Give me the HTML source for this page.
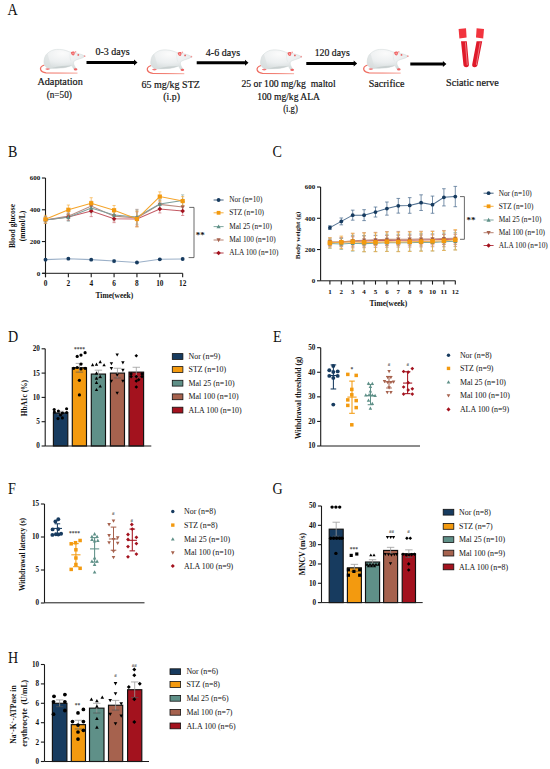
<!DOCTYPE html>
<html><head><meta charset="utf-8"><style>
html,body{margin:0;padding:0;background:#fff;}
svg{display:block;font-family:"Liberation Serif", serif;}
text{stroke:none;}
</style></head><body>
<svg width="550" height="769" viewBox="0 0 550 769">
<defs>
<radialGradient id="ratg" cx="0.45" cy="0.2" r="0.8">
<stop offset="0" stop-color="#fbfbfb"/><stop offset="0.55" stop-color="#eceff0"/><stop offset="1" stop-color="#d3dada"/>
</radialGradient>
<linearGradient id="tailg" x1="0" y1="0" x2="1" y2="0">
<stop offset="0" stop-color="#ee6a5e"/><stop offset="0.5" stop-color="#f28478"/><stop offset="1" stop-color="#f8bab2"/>
</linearGradient>
</defs>
<rect width="550" height="769" fill="#fff"/>
<text x="0" y="0" font-size="16.2" fill="#111" transform="translate(7.60,15.10) scale(0.87,1)">A</text>
<g transform="translate(0.00,0.00)"><path d="M44.4,65 C41.5,66 40.2,68 40.6,69.5 C41.2,71.5 43,72.5 46,72.8 L77.5,73.2" fill="none" stroke="url(#tailg)" stroke-width="1.3"/><path d="M45,65.8 C44,64 43.8,62.5 44.1,60.5 C44.6,57 45.5,55 47.3,53.5 C50,51 53,49.6 56.4,49.4 C61,49.1 65.5,50 69.1,51.7 C71.5,52.5 75,52.8 78.2,53.5 C80.5,54 83,55 85,56.2 C83.5,57.6 81.5,58.4 79.1,59 C77,59.6 75.2,60.2 74.1,61.2 C73.3,62.3 73.6,64 74.3,65.5 C75,67 75.8,68.2 76.8,69.2 L74.2,69.6 C73,68.2 72.3,66.5 71.8,65.6 C68,67 64.5,67.8 60.9,68 C56,68.3 51.5,68.2 48.8,68.6 C47.2,68 45.8,67 45,65.8 Z" fill="url(#ratg)" stroke="#ccd4d4" stroke-width="0.45"/><path d="M45,65.8 C44,64 43.8,62.5 44.1,60.5 C44.6,57 45.5,55 47.3,53.5 C48.6,57 49.6,62 51.5,68.4 C50,68.5 49.5,68.6 48.8,68.6 C47.2,68 45.8,67 45,65.8 Z" fill="#d9dfdf" opacity="0.55"/><path d="M52,67.9 C58,66.4 66,65.6 71.8,65.6 C68,67 64.5,67.8 60.9,68 C57,68.2 54,68.2 52,67.9 Z" fill="#c4cccc" opacity="0.8"/><path d="M70.5,52.3 C69.6,55 69.8,58.5 71.2,61.5" fill="none" stroke="#dfe5e5" stroke-width="0.5"/><path d="M70.9,52.6 C71.8,51.5 73.5,51.3 74.6,52 C74.9,53.3 74.6,55 73.4,55.6 C72.2,55.5 71.2,54.4 70.9,52.6 Z" fill="#ef5d5d"/><ellipse cx="73" cy="53.4" rx="0.8" ry="1.0" fill="#f7a0a0"/><circle cx="75.6" cy="51.9" r="0.8" fill="#f4a2a2"/><circle cx="78.3" cy="54.9" r="0.9" fill="#e86060"/><circle cx="84.6" cy="56.2" r="0.85" fill="#f09a9a"/><ellipse cx="75.6" cy="69.4" rx="1.8" ry="1.1" fill="#ef6262"/><ellipse cx="47.6" cy="69.1" rx="2.3" ry="0.8" fill="#f07878"/></g>
<g transform="translate(106.80,0.50)"><path d="M44.4,65 C41.5,66 40.2,68 40.6,69.5 C41.2,71.5 43,72.5 46,72.8 L77.5,73.2" fill="none" stroke="url(#tailg)" stroke-width="1.3"/><path d="M45,65.8 C44,64 43.8,62.5 44.1,60.5 C44.6,57 45.5,55 47.3,53.5 C50,51 53,49.6 56.4,49.4 C61,49.1 65.5,50 69.1,51.7 C71.5,52.5 75,52.8 78.2,53.5 C80.5,54 83,55 85,56.2 C83.5,57.6 81.5,58.4 79.1,59 C77,59.6 75.2,60.2 74.1,61.2 C73.3,62.3 73.6,64 74.3,65.5 C75,67 75.8,68.2 76.8,69.2 L74.2,69.6 C73,68.2 72.3,66.5 71.8,65.6 C68,67 64.5,67.8 60.9,68 C56,68.3 51.5,68.2 48.8,68.6 C47.2,68 45.8,67 45,65.8 Z" fill="url(#ratg)" stroke="#ccd4d4" stroke-width="0.45"/><path d="M45,65.8 C44,64 43.8,62.5 44.1,60.5 C44.6,57 45.5,55 47.3,53.5 C48.6,57 49.6,62 51.5,68.4 C50,68.5 49.5,68.6 48.8,68.6 C47.2,68 45.8,67 45,65.8 Z" fill="#d9dfdf" opacity="0.55"/><path d="M52,67.9 C58,66.4 66,65.6 71.8,65.6 C68,67 64.5,67.8 60.9,68 C57,68.2 54,68.2 52,67.9 Z" fill="#c4cccc" opacity="0.8"/><path d="M70.5,52.3 C69.6,55 69.8,58.5 71.2,61.5" fill="none" stroke="#dfe5e5" stroke-width="0.5"/><path d="M70.9,52.6 C71.8,51.5 73.5,51.3 74.6,52 C74.9,53.3 74.6,55 73.4,55.6 C72.2,55.5 71.2,54.4 70.9,52.6 Z" fill="#ef5d5d"/><ellipse cx="73" cy="53.4" rx="0.8" ry="1.0" fill="#f7a0a0"/><circle cx="75.6" cy="51.9" r="0.8" fill="#f4a2a2"/><circle cx="78.3" cy="54.9" r="0.9" fill="#e86060"/><circle cx="84.6" cy="56.2" r="0.85" fill="#f09a9a"/><ellipse cx="75.6" cy="69.4" rx="1.8" ry="1.1" fill="#ef6262"/><ellipse cx="47.6" cy="69.1" rx="2.3" ry="0.8" fill="#f07878"/></g>
<g transform="translate(216.60,0.50)"><path d="M44.4,65 C41.5,66 40.2,68 40.6,69.5 C41.2,71.5 43,72.5 46,72.8 L77.5,73.2" fill="none" stroke="url(#tailg)" stroke-width="1.3"/><path d="M45,65.8 C44,64 43.8,62.5 44.1,60.5 C44.6,57 45.5,55 47.3,53.5 C50,51 53,49.6 56.4,49.4 C61,49.1 65.5,50 69.1,51.7 C71.5,52.5 75,52.8 78.2,53.5 C80.5,54 83,55 85,56.2 C83.5,57.6 81.5,58.4 79.1,59 C77,59.6 75.2,60.2 74.1,61.2 C73.3,62.3 73.6,64 74.3,65.5 C75,67 75.8,68.2 76.8,69.2 L74.2,69.6 C73,68.2 72.3,66.5 71.8,65.6 C68,67 64.5,67.8 60.9,68 C56,68.3 51.5,68.2 48.8,68.6 C47.2,68 45.8,67 45,65.8 Z" fill="url(#ratg)" stroke="#ccd4d4" stroke-width="0.45"/><path d="M45,65.8 C44,64 43.8,62.5 44.1,60.5 C44.6,57 45.5,55 47.3,53.5 C48.6,57 49.6,62 51.5,68.4 C50,68.5 49.5,68.6 48.8,68.6 C47.2,68 45.8,67 45,65.8 Z" fill="#d9dfdf" opacity="0.55"/><path d="M52,67.9 C58,66.4 66,65.6 71.8,65.6 C68,67 64.5,67.8 60.9,68 C57,68.2 54,68.2 52,67.9 Z" fill="#c4cccc" opacity="0.8"/><path d="M70.5,52.3 C69.6,55 69.8,58.5 71.2,61.5" fill="none" stroke="#dfe5e5" stroke-width="0.5"/><path d="M70.9,52.6 C71.8,51.5 73.5,51.3 74.6,52 C74.9,53.3 74.6,55 73.4,55.6 C72.2,55.5 71.2,54.4 70.9,52.6 Z" fill="#ef5d5d"/><ellipse cx="73" cy="53.4" rx="0.8" ry="1.0" fill="#f7a0a0"/><circle cx="75.6" cy="51.9" r="0.8" fill="#f4a2a2"/><circle cx="78.3" cy="54.9" r="0.9" fill="#e86060"/><circle cx="84.6" cy="56.2" r="0.85" fill="#f09a9a"/><ellipse cx="75.6" cy="69.4" rx="1.8" ry="1.1" fill="#ef6262"/><ellipse cx="47.6" cy="69.1" rx="2.3" ry="0.8" fill="#f07878"/></g>
<g transform="translate(323.20,0.00)"><path d="M44.4,65 C41.5,66 40.2,68 40.6,69.5 C41.2,71.5 43,72.5 46,72.8 L77.5,73.2" fill="none" stroke="url(#tailg)" stroke-width="1.3"/><path d="M45,65.8 C44,64 43.8,62.5 44.1,60.5 C44.6,57 45.5,55 47.3,53.5 C50,51 53,49.6 56.4,49.4 C61,49.1 65.5,50 69.1,51.7 C71.5,52.5 75,52.8 78.2,53.5 C80.5,54 83,55 85,56.2 C83.5,57.6 81.5,58.4 79.1,59 C77,59.6 75.2,60.2 74.1,61.2 C73.3,62.3 73.6,64 74.3,65.5 C75,67 75.8,68.2 76.8,69.2 L74.2,69.6 C73,68.2 72.3,66.5 71.8,65.6 C68,67 64.5,67.8 60.9,68 C56,68.3 51.5,68.2 48.8,68.6 C47.2,68 45.8,67 45,65.8 Z" fill="url(#ratg)" stroke="#ccd4d4" stroke-width="0.45"/><path d="M45,65.8 C44,64 43.8,62.5 44.1,60.5 C44.6,57 45.5,55 47.3,53.5 C48.6,57 49.6,62 51.5,68.4 C50,68.5 49.5,68.6 48.8,68.6 C47.2,68 45.8,67 45,65.8 Z" fill="#d9dfdf" opacity="0.55"/><path d="M52,67.9 C58,66.4 66,65.6 71.8,65.6 C68,67 64.5,67.8 60.9,68 C57,68.2 54,68.2 52,67.9 Z" fill="#c4cccc" opacity="0.8"/><path d="M70.5,52.3 C69.6,55 69.8,58.5 71.2,61.5" fill="none" stroke="#dfe5e5" stroke-width="0.5"/><path d="M70.9,52.6 C71.8,51.5 73.5,51.3 74.6,52 C74.9,53.3 74.6,55 73.4,55.6 C72.2,55.5 71.2,54.4 70.9,52.6 Z" fill="#ef5d5d"/><ellipse cx="73" cy="53.4" rx="0.8" ry="1.0" fill="#f7a0a0"/><circle cx="75.6" cy="51.9" r="0.8" fill="#f4a2a2"/><circle cx="78.3" cy="54.9" r="0.9" fill="#e86060"/><circle cx="84.6" cy="56.2" r="0.85" fill="#f09a9a"/><ellipse cx="75.6" cy="69.4" rx="1.8" ry="1.1" fill="#ef6262"/><ellipse cx="47.6" cy="69.1" rx="2.3" ry="0.8" fill="#f07878"/></g>
<path d="M86.50,61.00 L134.00,61.00 L134.00,59.50 L137.50,62.50 L134.00,65.50 L134.00,64.00 L86.50,64.00 Z" fill="#000"/>
<path d="M196.70,61.30 L245.00,61.30 L245.00,59.80 L248.50,62.80 L245.00,65.80 L245.00,64.30 L196.70,64.30 Z" fill="#000"/>
<path d="M306.30,62.00 L353.70,62.00 L353.70,60.50 L357.20,63.50 L353.70,66.50 L353.70,65.00 L306.30,65.00 Z" fill="#000"/>
<path d="M410.30,62.50 L442.90,62.50 L442.90,61.00 L446.40,64.00 L442.90,67.00 L442.90,65.50 L410.30,65.50 Z" fill="#000"/>
<text x="112.50" y="55.10" font-size="9.9" text-anchor="middle" font-weight="normal" fill="#111" style="stroke:#111;stroke-width:0.18px" textLength="34.2" lengthAdjust="spacingAndGlyphs">0-3 days</text>
<text x="223.00" y="55.60" font-size="9.9" text-anchor="middle" font-weight="normal" fill="#111" style="stroke:#111;stroke-width:0.18px" textLength="34.3" lengthAdjust="spacingAndGlyphs">4-6 days</text>
<text x="332.20" y="55.60" font-size="9.9" text-anchor="middle" font-weight="normal" fill="#111" style="stroke:#111;stroke-width:0.18px" textLength="35" lengthAdjust="spacingAndGlyphs">120 days</text>
<text x="60.10" y="85.10" font-size="9.9" text-anchor="middle" font-weight="normal" fill="#111" style="stroke:#111;stroke-width:0.18px" textLength="45.4" lengthAdjust="spacingAndGlyphs">Adaptation</text>
<text x="59.30" y="97.60" font-size="9.9" text-anchor="middle" font-weight="normal" fill="#111" style="stroke:#111;stroke-width:0.18px" textLength="25.2" lengthAdjust="spacingAndGlyphs">(n=50)</text>
<text x="170.70" y="87.50" font-size="9.9" text-anchor="middle" font-weight="normal" fill="#111" style="stroke:#111;stroke-width:0.18px" textLength="58.4" lengthAdjust="spacingAndGlyphs">65 mg/kg STZ</text>
<text x="171.60" y="99.70" font-size="9.9" text-anchor="middle" font-weight="normal" fill="#111" style="stroke:#111;stroke-width:0.18px" textLength="16.6" lengthAdjust="spacingAndGlyphs">(i.p)</text>
<text x="288.50" y="87.40" font-size="9.9" text-anchor="middle" font-weight="normal" fill="#111" style="stroke:#111;stroke-width:0.18px" textLength="94.2" lengthAdjust="spacingAndGlyphs">25 or 100 mg/kg&#160; maltol</text>
<text x="288.60" y="99.50" font-size="9.9" text-anchor="middle" font-weight="normal" fill="#111" style="stroke:#111;stroke-width:0.18px" textLength="62.7" lengthAdjust="spacingAndGlyphs">100 mg/kg ALA</text>
<text x="290.50" y="111.50" font-size="9.9" text-anchor="middle" font-weight="normal" fill="#111" style="stroke:#111;stroke-width:0.18px" textLength="14.7" lengthAdjust="spacingAndGlyphs">(i.g)</text>
<text x="386.60" y="87.00" font-size="9.9" text-anchor="middle" font-weight="normal" fill="#111" style="stroke:#111;stroke-width:0.18px" textLength="35.7" lengthAdjust="spacingAndGlyphs">Sacrifice</text>
<text x="472.50" y="85.60" font-size="9.9" text-anchor="middle" font-weight="normal" fill="#111" style="stroke:#111;stroke-width:0.18px" textLength="52.8" lengthAdjust="spacingAndGlyphs">Sciatic nerve</text>
<g><polygon points="458.6,29 466,28.2 466.6,37.6 459.4,38.4" fill="#f2343e"/><path d="M461,41.3 L466.8,41.3 L468.9,64.5 Q469,67.3 466.2,67.3 Q463.6,67.3 463.4,64.6 Z" fill="#e01a2a"/><polygon points="476.6,28.2 484,29 483.2,38.4 476,37.6" fill="#f2343e"/><path d="M476.6,41.3 L482.2,41.3 L477.6,64.6 Q477.2,67.3 474.6,67.3 Q471.9,67.3 472.2,64.5 Z" fill="#e01a2a"/><line x1="465.4" y1="42.3" x2="467.3" y2="65" stroke="#fff" stroke-width="0.55" opacity="0.75"/><line x1="480.2" y1="42.3" x2="476.3" y2="65" stroke="#fff" stroke-width="0.55" opacity="0.75"/></g>
<text x="0" y="0" font-size="16.2" fill="#111" transform="translate(8.00,157.00) scale(0.87,1)">B</text>
<line x1="45.50" y1="178.00" x2="45.50" y2="277.20" stroke="#1a1a1a" stroke-width="1.1" />
<line x1="41.90" y1="273.30" x2="45.50" y2="273.30" stroke="#1a1a1a" stroke-width="1.1" />
<text x="40.20" y="275.68" font-size="7.0" text-anchor="end" font-weight="bold" fill="#111" >0</text>
<line x1="41.90" y1="241.54" x2="45.50" y2="241.54" stroke="#1a1a1a" stroke-width="1.1" />
<text x="40.20" y="243.92" font-size="7.0" text-anchor="end" font-weight="bold" fill="#111" >200</text>
<line x1="41.90" y1="209.78" x2="45.50" y2="209.78" stroke="#1a1a1a" stroke-width="1.1" />
<text x="40.20" y="212.16" font-size="7.0" text-anchor="end" font-weight="bold" fill="#111" >400</text>
<line x1="41.90" y1="178.02" x2="45.50" y2="178.02" stroke="#1a1a1a" stroke-width="1.1" />
<text x="40.20" y="180.40" font-size="7.0" text-anchor="end" font-weight="bold" fill="#111" >600</text>
<line x1="42.30" y1="273.30" x2="182.70" y2="273.30" stroke="#1a1a1a" stroke-width="1.0" />
<line x1="45.50" y1="273.30" x2="45.50" y2="277.20" stroke="#1a1a1a" stroke-width="1.1" />
<text x="45.50" y="285.60" font-size="7.3" text-anchor="middle" font-weight="bold" fill="#111" >0</text>
<line x1="68.36" y1="273.30" x2="68.36" y2="277.20" stroke="#1a1a1a" stroke-width="1.1" />
<text x="68.36" y="285.60" font-size="7.3" text-anchor="middle" font-weight="bold" fill="#111" >2</text>
<line x1="91.22" y1="273.30" x2="91.22" y2="277.20" stroke="#1a1a1a" stroke-width="1.1" />
<text x="91.22" y="285.60" font-size="7.3" text-anchor="middle" font-weight="bold" fill="#111" >4</text>
<line x1="114.08" y1="273.30" x2="114.08" y2="277.20" stroke="#1a1a1a" stroke-width="1.1" />
<text x="114.08" y="285.60" font-size="7.3" text-anchor="middle" font-weight="bold" fill="#111" >6</text>
<line x1="136.94" y1="273.30" x2="136.94" y2="277.20" stroke="#1a1a1a" stroke-width="1.1" />
<text x="136.94" y="285.60" font-size="7.3" text-anchor="middle" font-weight="bold" fill="#111" >8</text>
<line x1="159.80" y1="273.30" x2="159.80" y2="277.20" stroke="#1a1a1a" stroke-width="1.1" />
<text x="159.80" y="285.60" font-size="7.3" text-anchor="middle" font-weight="bold" fill="#111" >10</text>
<line x1="182.66" y1="273.30" x2="182.66" y2="277.20" stroke="#1a1a1a" stroke-width="1.1" />
<text x="182.66" y="285.60" font-size="7.3" text-anchor="middle" font-weight="bold" fill="#111" >12</text>
<text x="114.40" y="297.60" font-size="7.5" text-anchor="middle" font-weight="bold" fill="#111" >Time(week)</text>
<text x="0" y="0" font-size="7.5" font-weight="bold" text-anchor="middle" fill="#111" transform="translate(15.00,226.00) rotate(-90)">Blood glucose</text>
<text x="0" y="0" font-size="7.5" font-weight="bold" text-anchor="middle" fill="#111" transform="translate(25.00,226.00) rotate(-90)">(mmol/L)</text>
<polyline points="45.50,219.94 68.36,216.93 91.22,211.05 114.08,218.67 136.94,218.99 159.80,208.99 182.66,211.05" fill="none" stroke="#c45a64" stroke-width="1.05"/>
<polyline points="45.50,219.94 68.36,216.13 91.22,205.97 114.08,216.13 136.94,218.04 159.80,204.38 182.66,207.08" fill="none" stroke="#b98a80" stroke-width="1.05"/>
<polyline points="45.50,219.94 68.36,217.24 91.22,208.03 114.08,215.02 136.94,217.08 159.80,204.06 182.66,200.41" fill="none" stroke="#7d9f9b" stroke-width="1.05"/>
<polyline points="45.50,219.31 68.36,209.78 91.22,203.27 114.08,210.26 136.94,218.99 159.80,196.60 182.66,201.05" fill="none" stroke="#f5a42a" stroke-width="1.05"/>
<polyline points="45.50,259.64 68.36,258.69 91.22,259.64 114.08,261.07 136.94,262.50 159.80,259.33 182.66,259.01" fill="none" stroke="#9bb0c8" stroke-width="1.05"/>
<line x1="45.50" y1="216.77" x2="45.50" y2="223.12" stroke="#c45a64" stroke-width="0.6" />
<line x1="43.90" y1="216.77" x2="47.10" y2="216.77" stroke="#c45a64" stroke-width="0.6" />
<line x1="43.90" y1="223.12" x2="47.10" y2="223.12" stroke="#c45a64" stroke-width="0.6" />
<line x1="68.36" y1="213.43" x2="68.36" y2="220.42" stroke="#c45a64" stroke-width="0.6" />
<line x1="66.76" y1="213.43" x2="69.96" y2="213.43" stroke="#c45a64" stroke-width="0.6" />
<line x1="66.76" y1="220.42" x2="69.96" y2="220.42" stroke="#c45a64" stroke-width="0.6" />
<line x1="91.22" y1="205.49" x2="91.22" y2="216.61" stroke="#c45a64" stroke-width="0.6" />
<line x1="89.62" y1="205.49" x2="92.82" y2="205.49" stroke="#c45a64" stroke-width="0.6" />
<line x1="89.62" y1="216.61" x2="92.82" y2="216.61" stroke="#c45a64" stroke-width="0.6" />
<line x1="114.08" y1="214.70" x2="114.08" y2="222.64" stroke="#c45a64" stroke-width="0.6" />
<line x1="112.48" y1="214.70" x2="115.68" y2="214.70" stroke="#c45a64" stroke-width="0.6" />
<line x1="112.48" y1="222.64" x2="115.68" y2="222.64" stroke="#c45a64" stroke-width="0.6" />
<line x1="136.94" y1="211.84" x2="136.94" y2="226.14" stroke="#c45a64" stroke-width="0.6" />
<line x1="135.34" y1="211.84" x2="138.54" y2="211.84" stroke="#c45a64" stroke-width="0.6" />
<line x1="135.34" y1="226.14" x2="138.54" y2="226.14" stroke="#c45a64" stroke-width="0.6" />
<line x1="159.80" y1="205.02" x2="159.80" y2="212.96" stroke="#c45a64" stroke-width="0.6" />
<line x1="158.20" y1="205.02" x2="161.40" y2="205.02" stroke="#c45a64" stroke-width="0.6" />
<line x1="158.20" y1="212.96" x2="161.40" y2="212.96" stroke="#c45a64" stroke-width="0.6" />
<line x1="182.66" y1="206.60" x2="182.66" y2="215.50" stroke="#c45a64" stroke-width="0.6" />
<line x1="181.06" y1="206.60" x2="184.26" y2="206.60" stroke="#c45a64" stroke-width="0.6" />
<line x1="181.06" y1="215.50" x2="184.26" y2="215.50" stroke="#c45a64" stroke-width="0.6" />
<line x1="45.50" y1="216.77" x2="45.50" y2="223.12" stroke="#b98a80" stroke-width="0.6" />
<line x1="43.90" y1="216.77" x2="47.10" y2="216.77" stroke="#b98a80" stroke-width="0.6" />
<line x1="43.90" y1="223.12" x2="47.10" y2="223.12" stroke="#b98a80" stroke-width="0.6" />
<line x1="68.36" y1="212.16" x2="68.36" y2="220.10" stroke="#b98a80" stroke-width="0.6" />
<line x1="66.76" y1="212.16" x2="69.96" y2="212.16" stroke="#b98a80" stroke-width="0.6" />
<line x1="66.76" y1="220.10" x2="69.96" y2="220.10" stroke="#b98a80" stroke-width="0.6" />
<line x1="91.22" y1="201.20" x2="91.22" y2="210.73" stroke="#b98a80" stroke-width="0.6" />
<line x1="89.62" y1="201.20" x2="92.82" y2="201.20" stroke="#b98a80" stroke-width="0.6" />
<line x1="89.62" y1="210.73" x2="92.82" y2="210.73" stroke="#b98a80" stroke-width="0.6" />
<line x1="114.08" y1="211.37" x2="114.08" y2="220.90" stroke="#b98a80" stroke-width="0.6" />
<line x1="112.48" y1="211.37" x2="115.68" y2="211.37" stroke="#b98a80" stroke-width="0.6" />
<line x1="112.48" y1="220.90" x2="115.68" y2="220.90" stroke="#b98a80" stroke-width="0.6" />
<line x1="136.94" y1="209.30" x2="136.94" y2="226.77" stroke="#b98a80" stroke-width="0.6" />
<line x1="135.34" y1="209.30" x2="138.54" y2="209.30" stroke="#b98a80" stroke-width="0.6" />
<line x1="135.34" y1="226.77" x2="138.54" y2="226.77" stroke="#b98a80" stroke-width="0.6" />
<line x1="159.80" y1="200.41" x2="159.80" y2="208.35" stroke="#b98a80" stroke-width="0.6" />
<line x1="158.20" y1="200.41" x2="161.40" y2="200.41" stroke="#b98a80" stroke-width="0.6" />
<line x1="158.20" y1="208.35" x2="161.40" y2="208.35" stroke="#b98a80" stroke-width="0.6" />
<line x1="182.66" y1="202.32" x2="182.66" y2="211.84" stroke="#b98a80" stroke-width="0.6" />
<line x1="181.06" y1="202.32" x2="184.26" y2="202.32" stroke="#b98a80" stroke-width="0.6" />
<line x1="181.06" y1="211.84" x2="184.26" y2="211.84" stroke="#b98a80" stroke-width="0.6" />
<line x1="45.50" y1="216.77" x2="45.50" y2="223.12" stroke="#7d9f9b" stroke-width="0.6" />
<line x1="43.90" y1="216.77" x2="47.10" y2="216.77" stroke="#7d9f9b" stroke-width="0.6" />
<line x1="43.90" y1="223.12" x2="47.10" y2="223.12" stroke="#7d9f9b" stroke-width="0.6" />
<line x1="68.36" y1="213.27" x2="68.36" y2="221.21" stroke="#7d9f9b" stroke-width="0.6" />
<line x1="66.76" y1="213.27" x2="69.96" y2="213.27" stroke="#7d9f9b" stroke-width="0.6" />
<line x1="66.76" y1="221.21" x2="69.96" y2="221.21" stroke="#7d9f9b" stroke-width="0.6" />
<line x1="91.22" y1="203.27" x2="91.22" y2="212.80" stroke="#7d9f9b" stroke-width="0.6" />
<line x1="89.62" y1="203.27" x2="92.82" y2="203.27" stroke="#7d9f9b" stroke-width="0.6" />
<line x1="89.62" y1="212.80" x2="92.82" y2="212.80" stroke="#7d9f9b" stroke-width="0.6" />
<line x1="114.08" y1="211.05" x2="114.08" y2="218.99" stroke="#7d9f9b" stroke-width="0.6" />
<line x1="112.48" y1="211.05" x2="115.68" y2="211.05" stroke="#7d9f9b" stroke-width="0.6" />
<line x1="112.48" y1="218.99" x2="115.68" y2="218.99" stroke="#7d9f9b" stroke-width="0.6" />
<line x1="136.94" y1="209.94" x2="136.94" y2="224.23" stroke="#7d9f9b" stroke-width="0.6" />
<line x1="135.34" y1="209.94" x2="138.54" y2="209.94" stroke="#7d9f9b" stroke-width="0.6" />
<line x1="135.34" y1="224.23" x2="138.54" y2="224.23" stroke="#7d9f9b" stroke-width="0.6" />
<line x1="159.80" y1="199.30" x2="159.80" y2="208.83" stroke="#7d9f9b" stroke-width="0.6" />
<line x1="158.20" y1="199.30" x2="161.40" y2="199.30" stroke="#7d9f9b" stroke-width="0.6" />
<line x1="158.20" y1="208.83" x2="161.40" y2="208.83" stroke="#7d9f9b" stroke-width="0.6" />
<line x1="182.66" y1="194.85" x2="182.66" y2="205.97" stroke="#7d9f9b" stroke-width="0.6" />
<line x1="181.06" y1="194.85" x2="184.26" y2="194.85" stroke="#7d9f9b" stroke-width="0.6" />
<line x1="181.06" y1="205.97" x2="184.26" y2="205.97" stroke="#7d9f9b" stroke-width="0.6" />
<line x1="45.50" y1="215.34" x2="45.50" y2="223.28" stroke="#f5a42a" stroke-width="0.6" />
<line x1="43.90" y1="215.34" x2="47.10" y2="215.34" stroke="#f5a42a" stroke-width="0.6" />
<line x1="43.90" y1="223.28" x2="47.10" y2="223.28" stroke="#f5a42a" stroke-width="0.6" />
<line x1="68.36" y1="205.02" x2="68.36" y2="214.54" stroke="#f5a42a" stroke-width="0.6" />
<line x1="66.76" y1="205.02" x2="69.96" y2="205.02" stroke="#f5a42a" stroke-width="0.6" />
<line x1="66.76" y1="214.54" x2="69.96" y2="214.54" stroke="#f5a42a" stroke-width="0.6" />
<line x1="91.22" y1="197.71" x2="91.22" y2="208.83" stroke="#f5a42a" stroke-width="0.6" />
<line x1="89.62" y1="197.71" x2="92.82" y2="197.71" stroke="#f5a42a" stroke-width="0.6" />
<line x1="89.62" y1="208.83" x2="92.82" y2="208.83" stroke="#f5a42a" stroke-width="0.6" />
<line x1="114.08" y1="205.49" x2="114.08" y2="215.02" stroke="#f5a42a" stroke-width="0.6" />
<line x1="112.48" y1="205.49" x2="115.68" y2="205.49" stroke="#f5a42a" stroke-width="0.6" />
<line x1="112.48" y1="215.02" x2="115.68" y2="215.02" stroke="#f5a42a" stroke-width="0.6" />
<line x1="136.94" y1="211.05" x2="136.94" y2="226.93" stroke="#f5a42a" stroke-width="0.6" />
<line x1="135.34" y1="211.05" x2="138.54" y2="211.05" stroke="#f5a42a" stroke-width="0.6" />
<line x1="135.34" y1="226.93" x2="138.54" y2="226.93" stroke="#f5a42a" stroke-width="0.6" />
<line x1="159.80" y1="191.84" x2="159.80" y2="201.36" stroke="#f5a42a" stroke-width="0.6" />
<line x1="158.20" y1="191.84" x2="161.40" y2="191.84" stroke="#f5a42a" stroke-width="0.6" />
<line x1="158.20" y1="201.36" x2="161.40" y2="201.36" stroke="#f5a42a" stroke-width="0.6" />
<line x1="182.66" y1="196.60" x2="182.66" y2="205.49" stroke="#f5a42a" stroke-width="0.6" />
<line x1="181.06" y1="196.60" x2="184.26" y2="196.60" stroke="#f5a42a" stroke-width="0.6" />
<line x1="181.06" y1="205.49" x2="184.26" y2="205.49" stroke="#f5a42a" stroke-width="0.6" />
<line x1="45.50" y1="258.69" x2="45.50" y2="260.60" stroke="#9bb0c8" stroke-width="0.6" />
<line x1="43.90" y1="258.69" x2="47.10" y2="258.69" stroke="#9bb0c8" stroke-width="0.6" />
<line x1="43.90" y1="260.60" x2="47.10" y2="260.60" stroke="#9bb0c8" stroke-width="0.6" />
<line x1="68.36" y1="257.74" x2="68.36" y2="259.64" stroke="#9bb0c8" stroke-width="0.6" />
<line x1="66.76" y1="257.74" x2="69.96" y2="257.74" stroke="#9bb0c8" stroke-width="0.6" />
<line x1="66.76" y1="259.64" x2="69.96" y2="259.64" stroke="#9bb0c8" stroke-width="0.6" />
<line x1="91.22" y1="258.69" x2="91.22" y2="260.60" stroke="#9bb0c8" stroke-width="0.6" />
<line x1="89.62" y1="258.69" x2="92.82" y2="258.69" stroke="#9bb0c8" stroke-width="0.6" />
<line x1="89.62" y1="260.60" x2="92.82" y2="260.60" stroke="#9bb0c8" stroke-width="0.6" />
<line x1="114.08" y1="259.48" x2="114.08" y2="262.66" stroke="#9bb0c8" stroke-width="0.6" />
<line x1="112.48" y1="259.48" x2="115.68" y2="259.48" stroke="#9bb0c8" stroke-width="0.6" />
<line x1="112.48" y1="262.66" x2="115.68" y2="262.66" stroke="#9bb0c8" stroke-width="0.6" />
<line x1="136.94" y1="261.71" x2="136.94" y2="263.30" stroke="#9bb0c8" stroke-width="0.6" />
<line x1="135.34" y1="261.71" x2="138.54" y2="261.71" stroke="#9bb0c8" stroke-width="0.6" />
<line x1="135.34" y1="263.30" x2="138.54" y2="263.30" stroke="#9bb0c8" stroke-width="0.6" />
<line x1="159.80" y1="258.37" x2="159.80" y2="260.28" stroke="#9bb0c8" stroke-width="0.6" />
<line x1="158.20" y1="258.37" x2="161.40" y2="258.37" stroke="#9bb0c8" stroke-width="0.6" />
<line x1="158.20" y1="260.28" x2="161.40" y2="260.28" stroke="#9bb0c8" stroke-width="0.6" />
<line x1="182.66" y1="258.06" x2="182.66" y2="259.96" stroke="#9bb0c8" stroke-width="0.6" />
<line x1="181.06" y1="258.06" x2="184.26" y2="258.06" stroke="#9bb0c8" stroke-width="0.6" />
<line x1="181.06" y1="259.96" x2="184.26" y2="259.96" stroke="#9bb0c8" stroke-width="0.6" />
<polygon points="45.50,217.66 47.78,219.94 45.50,222.22 43.22,219.94" fill="#a3121e"/>
<polygon points="68.36,214.65 70.64,216.93 68.36,219.21 66.08,216.93" fill="#a3121e"/>
<polygon points="91.22,208.77 93.50,211.05 91.22,213.33 88.94,211.05" fill="#a3121e"/>
<polygon points="114.08,216.39 116.36,218.67 114.08,220.95 111.80,218.67" fill="#a3121e"/>
<polygon points="136.94,216.71 139.22,218.99 136.94,221.27 134.66,218.99" fill="#a3121e"/>
<polygon points="159.80,206.71 162.08,208.99 159.80,211.27 157.52,208.99" fill="#a3121e"/>
<polygon points="182.66,208.77 184.94,211.05 182.66,213.33 180.38,211.05" fill="#a3121e"/>
<polygon points="45.50,222.13 47.59,218.30 43.41,218.30" fill="#a6624e"/>
<polygon points="68.36,218.32 70.45,214.49 66.27,214.49" fill="#a6624e"/>
<polygon points="91.22,208.15 93.31,204.33 89.13,204.33" fill="#a6624e"/>
<polygon points="114.08,218.32 116.17,214.49 111.99,214.49" fill="#a6624e"/>
<polygon points="136.94,220.22 139.03,216.40 134.85,216.40" fill="#a6624e"/>
<polygon points="159.80,206.57 161.89,202.74 157.71,202.74" fill="#a6624e"/>
<polygon points="182.66,209.27 184.75,205.44 180.57,205.44" fill="#a6624e"/>
<polygon points="45.50,217.76 47.59,221.58 43.41,221.58" fill="#5f9088"/>
<polygon points="68.36,215.06 70.45,218.88 66.27,218.88" fill="#5f9088"/>
<polygon points="91.22,205.85 93.31,209.67 89.13,209.67" fill="#5f9088"/>
<polygon points="114.08,212.84 116.17,216.66 111.99,216.66" fill="#5f9088"/>
<polygon points="136.94,214.90 139.03,218.72 134.85,218.72" fill="#5f9088"/>
<polygon points="159.80,201.88 161.89,205.70 157.71,205.70" fill="#5f9088"/>
<polygon points="182.66,198.23 184.75,202.05 180.57,202.05" fill="#5f9088"/>
<rect x="43.40" y="217.21" width="4.20" height="4.20" fill="#f39a0f"/>
<rect x="66.26" y="207.68" width="4.20" height="4.20" fill="#f39a0f"/>
<rect x="89.12" y="201.17" width="4.20" height="4.20" fill="#f39a0f"/>
<rect x="111.98" y="208.16" width="4.20" height="4.20" fill="#f39a0f"/>
<rect x="134.84" y="216.89" width="4.20" height="4.20" fill="#f39a0f"/>
<rect x="157.70" y="194.50" width="4.20" height="4.20" fill="#f39a0f"/>
<rect x="180.56" y="198.95" width="4.20" height="4.20" fill="#f39a0f"/>
<circle cx="45.50" cy="259.64" r="1.90" fill="#173b5f"/>
<circle cx="68.36" cy="258.69" r="1.90" fill="#173b5f"/>
<circle cx="91.22" cy="259.64" r="1.90" fill="#173b5f"/>
<circle cx="114.08" cy="261.07" r="1.90" fill="#173b5f"/>
<circle cx="136.94" cy="262.50" r="1.90" fill="#173b5f"/>
<circle cx="159.80" cy="259.33" r="1.90" fill="#173b5f"/>
<circle cx="182.66" cy="259.01" r="1.90" fill="#173b5f"/>
<path d="M189.2,207.4 L194,207.4 L194,257.6 L188.6,257.6" fill="none" stroke="#444" stroke-width="0.8"/>
<text x="200.30" y="237.80" font-size="9" text-anchor="middle" font-weight="bold" fill="#111" >**</text>
<line x1="213.60" y1="200.00" x2="223.60" y2="200.00" stroke="#173b5f" stroke-width="0.8" />
<circle cx="218.60" cy="200.00" r="1.90" fill="#173b5f"/>
<text x="229.30" y="202.41" font-size="7.3" text-anchor="start" font-weight="normal" fill="#111" >Nor (n=10)</text>
<line x1="213.60" y1="212.80" x2="223.60" y2="212.80" stroke="#f39a0f" stroke-width="0.8" />
<rect x="216.70" y="210.90" width="3.80" height="3.80" fill="#f39a0f"/>
<text x="229.30" y="215.21" font-size="7.3" text-anchor="start" font-weight="normal" fill="#111" >STZ (n=10)</text>
<line x1="213.60" y1="226.60" x2="223.60" y2="226.60" stroke="#5f9088" stroke-width="0.8" />
<polygon points="218.60,224.41 220.69,228.24 216.51,228.24" fill="#5f9088"/>
<text x="229.30" y="229.01" font-size="7.3" text-anchor="start" font-weight="normal" fill="#111" >Mal 25 (n=10)</text>
<line x1="213.60" y1="240.00" x2="223.60" y2="240.00" stroke="#a6624e" stroke-width="0.8" />
<polygon points="218.60,242.19 220.69,238.36 216.51,238.36" fill="#a6624e"/>
<text x="229.30" y="242.41" font-size="7.3" text-anchor="start" font-weight="normal" fill="#111" >Mal 100 (n=10)</text>
<line x1="213.60" y1="253.00" x2="223.60" y2="253.00" stroke="#a3121e" stroke-width="0.8" />
<polygon points="218.60,250.72 220.88,253.00 218.60,255.28 216.32,253.00" fill="#a3121e"/>
<text x="229.30" y="255.41" font-size="7.3" text-anchor="start" font-weight="normal" fill="#111" >ALA 100 (n=10)</text>
<text x="0" y="0" font-size="16.2" fill="#111" transform="translate(272.60,157.00) scale(0.87,1)">C</text>
<line x1="320.60" y1="187.00" x2="320.60" y2="280.80" stroke="#1a1a1a" stroke-width="1.1" />
<line x1="317.00" y1="280.80" x2="320.60" y2="280.80" stroke="#1a1a1a" stroke-width="1.1" />
<text x="315.30" y="283.18" font-size="7.0" text-anchor="end" font-weight="bold" fill="#111" >0</text>
<line x1="317.00" y1="249.54" x2="320.60" y2="249.54" stroke="#1a1a1a" stroke-width="1.1" />
<text x="315.30" y="251.92" font-size="7.0" text-anchor="end" font-weight="bold" fill="#111" >200</text>
<line x1="317.00" y1="218.28" x2="320.60" y2="218.28" stroke="#1a1a1a" stroke-width="1.1" />
<text x="315.30" y="220.66" font-size="7.0" text-anchor="end" font-weight="bold" fill="#111" >400</text>
<line x1="317.00" y1="187.02" x2="320.60" y2="187.02" stroke="#1a1a1a" stroke-width="1.1" />
<text x="315.30" y="189.40" font-size="7.0" text-anchor="end" font-weight="bold" fill="#111" >600</text>
<line x1="320.60" y1="280.80" x2="455.50" y2="280.80" stroke="#1a1a1a" stroke-width="1.0" />
<line x1="329.90" y1="280.80" x2="329.90" y2="284.60" stroke="#1a1a1a" stroke-width="1.1" />
<text x="329.90" y="293.50" font-size="7.0" text-anchor="middle" font-weight="bold" fill="#111" >1</text>
<line x1="341.30" y1="280.80" x2="341.30" y2="284.60" stroke="#1a1a1a" stroke-width="1.1" />
<text x="341.30" y="293.50" font-size="7.0" text-anchor="middle" font-weight="bold" fill="#111" >2</text>
<line x1="352.70" y1="280.80" x2="352.70" y2="284.60" stroke="#1a1a1a" stroke-width="1.1" />
<text x="352.70" y="293.50" font-size="7.0" text-anchor="middle" font-weight="bold" fill="#111" >3</text>
<line x1="364.10" y1="280.80" x2="364.10" y2="284.60" stroke="#1a1a1a" stroke-width="1.1" />
<text x="364.10" y="293.50" font-size="7.0" text-anchor="middle" font-weight="bold" fill="#111" >4</text>
<line x1="375.50" y1="280.80" x2="375.50" y2="284.60" stroke="#1a1a1a" stroke-width="1.1" />
<text x="375.50" y="293.50" font-size="7.0" text-anchor="middle" font-weight="bold" fill="#111" >5</text>
<line x1="386.90" y1="280.80" x2="386.90" y2="284.60" stroke="#1a1a1a" stroke-width="1.1" />
<text x="386.90" y="293.50" font-size="7.0" text-anchor="middle" font-weight="bold" fill="#111" >6</text>
<line x1="398.30" y1="280.80" x2="398.30" y2="284.60" stroke="#1a1a1a" stroke-width="1.1" />
<text x="398.30" y="293.50" font-size="7.0" text-anchor="middle" font-weight="bold" fill="#111" >7</text>
<line x1="409.70" y1="280.80" x2="409.70" y2="284.60" stroke="#1a1a1a" stroke-width="1.1" />
<text x="409.70" y="293.50" font-size="7.0" text-anchor="middle" font-weight="bold" fill="#111" >8</text>
<line x1="421.10" y1="280.80" x2="421.10" y2="284.60" stroke="#1a1a1a" stroke-width="1.1" />
<text x="421.10" y="293.50" font-size="7.0" text-anchor="middle" font-weight="bold" fill="#111" >9</text>
<line x1="432.50" y1="280.80" x2="432.50" y2="284.60" stroke="#1a1a1a" stroke-width="1.1" />
<text x="432.50" y="293.50" font-size="7.0" text-anchor="middle" font-weight="bold" fill="#111" >10</text>
<line x1="443.90" y1="280.80" x2="443.90" y2="284.60" stroke="#1a1a1a" stroke-width="1.1" />
<text x="443.90" y="293.50" font-size="7.0" text-anchor="middle" font-weight="bold" fill="#111" >11</text>
<line x1="455.30" y1="280.80" x2="455.30" y2="284.60" stroke="#1a1a1a" stroke-width="1.1" />
<text x="455.30" y="293.50" font-size="7.0" text-anchor="middle" font-weight="bold" fill="#111" >12</text>
<text x="388.40" y="305.60" font-size="7.5" text-anchor="middle" font-weight="bold" fill="#111" >Time(week)</text>
<text x="0" y="0" font-size="7.1" font-weight="bold" text-anchor="middle" fill="#111" transform="translate(300.10,235.40) rotate(-90)">Body weight (g)</text>
<polyline points="329.90,242.98 341.30,242.04 352.70,241.41 364.10,240.94 375.50,240.63 386.90,240.47 398.30,240.32 409.70,240.16 421.10,240.01 432.50,239.85 443.90,239.54 455.30,239.22" fill="none" stroke="#c45a64" stroke-width="1.05"/>
<polyline points="329.90,241.73 341.30,242.04 352.70,240.79 364.10,240.16 375.50,239.85 386.90,239.38 398.30,239.22 409.70,239.22 421.10,239.07 432.50,238.91 443.90,238.60 455.30,238.29" fill="none" stroke="#c08676" stroke-width="1.05"/>
<polyline points="329.90,243.60 341.30,243.91 352.70,243.29 364.10,243.60 375.50,243.29 386.90,242.82 398.30,242.82 409.70,242.66 421.10,242.35 432.50,242.35 443.90,241.73 455.30,241.26" fill="none" stroke="#7fa9a2" stroke-width="1.05"/>
<polyline points="329.90,242.82 341.30,242.35 352.70,241.73 364.10,242.35 375.50,242.35 386.90,241.73 398.30,242.04 409.70,241.73 421.10,241.57 432.50,241.26 443.90,240.79 455.30,239.85" fill="none" stroke="#f5ae40" stroke-width="1.05"/>
<polyline points="329.90,227.66 341.30,221.41 352.70,215.15 364.10,215.15 375.50,212.03 386.90,208.59 398.30,205.78 409.70,205.46 421.10,202.65 432.50,204.68 443.90,197.34 455.30,196.55" fill="none" stroke="#4f6f90" stroke-width="1.05"/>
<line x1="329.90" y1="239.85" x2="329.90" y2="246.10" stroke="#c45a64" stroke-width="0.75" />
<line x1="328.10" y1="239.85" x2="331.70" y2="239.85" stroke="#c45a64" stroke-width="0.75" />
<line x1="328.10" y1="246.10" x2="331.70" y2="246.10" stroke="#c45a64" stroke-width="0.75" />
<line x1="341.30" y1="238.13" x2="341.30" y2="245.95" stroke="#c45a64" stroke-width="0.75" />
<line x1="339.50" y1="238.13" x2="343.10" y2="238.13" stroke="#c45a64" stroke-width="0.75" />
<line x1="339.50" y1="245.95" x2="343.10" y2="245.95" stroke="#c45a64" stroke-width="0.75" />
<line x1="352.70" y1="236.72" x2="352.70" y2="246.10" stroke="#c45a64" stroke-width="0.75" />
<line x1="350.90" y1="236.72" x2="354.50" y2="236.72" stroke="#c45a64" stroke-width="0.75" />
<line x1="350.90" y1="246.10" x2="354.50" y2="246.10" stroke="#c45a64" stroke-width="0.75" />
<line x1="364.10" y1="235.94" x2="364.10" y2="245.95" stroke="#c45a64" stroke-width="0.75" />
<line x1="362.30" y1="235.94" x2="365.90" y2="235.94" stroke="#c45a64" stroke-width="0.75" />
<line x1="362.30" y1="245.95" x2="365.90" y2="245.95" stroke="#c45a64" stroke-width="0.75" />
<line x1="375.50" y1="235.63" x2="375.50" y2="245.63" stroke="#c45a64" stroke-width="0.75" />
<line x1="373.70" y1="235.63" x2="377.30" y2="235.63" stroke="#c45a64" stroke-width="0.75" />
<line x1="373.70" y1="245.63" x2="377.30" y2="245.63" stroke="#c45a64" stroke-width="0.75" />
<line x1="386.90" y1="235.47" x2="386.90" y2="245.48" stroke="#c45a64" stroke-width="0.75" />
<line x1="385.10" y1="235.47" x2="388.70" y2="235.47" stroke="#c45a64" stroke-width="0.75" />
<line x1="385.10" y1="245.48" x2="388.70" y2="245.48" stroke="#c45a64" stroke-width="0.75" />
<line x1="398.30" y1="235.32" x2="398.30" y2="245.32" stroke="#c45a64" stroke-width="0.75" />
<line x1="396.50" y1="235.32" x2="400.10" y2="235.32" stroke="#c45a64" stroke-width="0.75" />
<line x1="396.50" y1="245.32" x2="400.10" y2="245.32" stroke="#c45a64" stroke-width="0.75" />
<line x1="409.70" y1="235.16" x2="409.70" y2="245.16" stroke="#c45a64" stroke-width="0.75" />
<line x1="407.90" y1="235.16" x2="411.50" y2="235.16" stroke="#c45a64" stroke-width="0.75" />
<line x1="407.90" y1="245.16" x2="411.50" y2="245.16" stroke="#c45a64" stroke-width="0.75" />
<line x1="421.10" y1="235.00" x2="421.10" y2="245.01" stroke="#c45a64" stroke-width="0.75" />
<line x1="419.30" y1="235.00" x2="422.90" y2="235.00" stroke="#c45a64" stroke-width="0.75" />
<line x1="419.30" y1="245.01" x2="422.90" y2="245.01" stroke="#c45a64" stroke-width="0.75" />
<line x1="432.50" y1="234.85" x2="432.50" y2="244.85" stroke="#c45a64" stroke-width="0.75" />
<line x1="430.70" y1="234.85" x2="434.30" y2="234.85" stroke="#c45a64" stroke-width="0.75" />
<line x1="430.70" y1="244.85" x2="434.30" y2="244.85" stroke="#c45a64" stroke-width="0.75" />
<line x1="443.90" y1="234.54" x2="443.90" y2="244.54" stroke="#c45a64" stroke-width="0.75" />
<line x1="442.10" y1="234.54" x2="445.70" y2="234.54" stroke="#c45a64" stroke-width="0.75" />
<line x1="442.10" y1="244.54" x2="445.70" y2="244.54" stroke="#c45a64" stroke-width="0.75" />
<line x1="455.30" y1="234.22" x2="455.30" y2="244.23" stroke="#c45a64" stroke-width="0.75" />
<line x1="453.50" y1="234.22" x2="457.10" y2="234.22" stroke="#c45a64" stroke-width="0.75" />
<line x1="453.50" y1="244.23" x2="457.10" y2="244.23" stroke="#c45a64" stroke-width="0.75" />
<line x1="329.90" y1="237.82" x2="329.90" y2="245.63" stroke="#c08676" stroke-width="0.75" />
<line x1="328.10" y1="237.82" x2="331.70" y2="237.82" stroke="#c08676" stroke-width="0.75" />
<line x1="328.10" y1="245.63" x2="331.70" y2="245.63" stroke="#c08676" stroke-width="0.75" />
<line x1="341.30" y1="237.35" x2="341.30" y2="246.73" stroke="#c08676" stroke-width="0.75" />
<line x1="339.50" y1="237.35" x2="343.10" y2="237.35" stroke="#c08676" stroke-width="0.75" />
<line x1="339.50" y1="246.73" x2="343.10" y2="246.73" stroke="#c08676" stroke-width="0.75" />
<line x1="352.70" y1="233.75" x2="352.70" y2="247.82" stroke="#c08676" stroke-width="0.75" />
<line x1="350.90" y1="233.75" x2="354.50" y2="233.75" stroke="#c08676" stroke-width="0.75" />
<line x1="350.90" y1="247.82" x2="354.50" y2="247.82" stroke="#c08676" stroke-width="0.75" />
<line x1="364.10" y1="232.66" x2="364.10" y2="247.66" stroke="#c08676" stroke-width="0.75" />
<line x1="362.30" y1="232.66" x2="365.90" y2="232.66" stroke="#c08676" stroke-width="0.75" />
<line x1="362.30" y1="247.66" x2="365.90" y2="247.66" stroke="#c08676" stroke-width="0.75" />
<line x1="375.50" y1="232.35" x2="375.50" y2="247.35" stroke="#c08676" stroke-width="0.75" />
<line x1="373.70" y1="232.35" x2="377.30" y2="232.35" stroke="#c08676" stroke-width="0.75" />
<line x1="373.70" y1="247.35" x2="377.30" y2="247.35" stroke="#c08676" stroke-width="0.75" />
<line x1="386.90" y1="231.57" x2="386.90" y2="247.20" stroke="#c08676" stroke-width="0.75" />
<line x1="385.10" y1="231.57" x2="388.70" y2="231.57" stroke="#c08676" stroke-width="0.75" />
<line x1="385.10" y1="247.20" x2="388.70" y2="247.20" stroke="#c08676" stroke-width="0.75" />
<line x1="398.30" y1="231.41" x2="398.30" y2="247.04" stroke="#c08676" stroke-width="0.75" />
<line x1="396.50" y1="231.41" x2="400.10" y2="231.41" stroke="#c08676" stroke-width="0.75" />
<line x1="396.50" y1="247.04" x2="400.10" y2="247.04" stroke="#c08676" stroke-width="0.75" />
<line x1="409.70" y1="231.41" x2="409.70" y2="247.04" stroke="#c08676" stroke-width="0.75" />
<line x1="407.90" y1="231.41" x2="411.50" y2="231.41" stroke="#c08676" stroke-width="0.75" />
<line x1="407.90" y1="247.04" x2="411.50" y2="247.04" stroke="#c08676" stroke-width="0.75" />
<line x1="421.10" y1="231.25" x2="421.10" y2="246.88" stroke="#c08676" stroke-width="0.75" />
<line x1="419.30" y1="231.25" x2="422.90" y2="231.25" stroke="#c08676" stroke-width="0.75" />
<line x1="419.30" y1="246.88" x2="422.90" y2="246.88" stroke="#c08676" stroke-width="0.75" />
<line x1="432.50" y1="231.10" x2="432.50" y2="246.73" stroke="#c08676" stroke-width="0.75" />
<line x1="430.70" y1="231.10" x2="434.30" y2="231.10" stroke="#c08676" stroke-width="0.75" />
<line x1="430.70" y1="246.73" x2="434.30" y2="246.73" stroke="#c08676" stroke-width="0.75" />
<line x1="443.90" y1="230.47" x2="443.90" y2="246.73" stroke="#c08676" stroke-width="0.75" />
<line x1="442.10" y1="230.47" x2="445.70" y2="230.47" stroke="#c08676" stroke-width="0.75" />
<line x1="442.10" y1="246.73" x2="445.70" y2="246.73" stroke="#c08676" stroke-width="0.75" />
<line x1="455.30" y1="230.16" x2="455.30" y2="246.41" stroke="#c08676" stroke-width="0.75" />
<line x1="453.50" y1="230.16" x2="457.10" y2="230.16" stroke="#c08676" stroke-width="0.75" />
<line x1="453.50" y1="246.41" x2="457.10" y2="246.41" stroke="#c08676" stroke-width="0.75" />
<line x1="329.90" y1="238.91" x2="329.90" y2="248.29" stroke="#7fa9a2" stroke-width="0.75" />
<line x1="328.10" y1="238.91" x2="331.70" y2="238.91" stroke="#7fa9a2" stroke-width="0.75" />
<line x1="328.10" y1="248.29" x2="331.70" y2="248.29" stroke="#7fa9a2" stroke-width="0.75" />
<line x1="341.30" y1="238.44" x2="341.30" y2="249.38" stroke="#7fa9a2" stroke-width="0.75" />
<line x1="339.50" y1="238.44" x2="343.10" y2="238.44" stroke="#7fa9a2" stroke-width="0.75" />
<line x1="339.50" y1="249.38" x2="343.10" y2="249.38" stroke="#7fa9a2" stroke-width="0.75" />
<line x1="352.70" y1="235.47" x2="352.70" y2="251.10" stroke="#7fa9a2" stroke-width="0.75" />
<line x1="350.90" y1="235.47" x2="354.50" y2="235.47" stroke="#7fa9a2" stroke-width="0.75" />
<line x1="350.90" y1="251.10" x2="354.50" y2="251.10" stroke="#7fa9a2" stroke-width="0.75" />
<line x1="364.10" y1="235.47" x2="364.10" y2="251.73" stroke="#7fa9a2" stroke-width="0.75" />
<line x1="362.30" y1="235.47" x2="365.90" y2="235.47" stroke="#7fa9a2" stroke-width="0.75" />
<line x1="362.30" y1="251.73" x2="365.90" y2="251.73" stroke="#7fa9a2" stroke-width="0.75" />
<line x1="375.50" y1="235.16" x2="375.50" y2="251.42" stroke="#7fa9a2" stroke-width="0.75" />
<line x1="373.70" y1="235.16" x2="377.30" y2="235.16" stroke="#7fa9a2" stroke-width="0.75" />
<line x1="373.70" y1="251.42" x2="377.30" y2="251.42" stroke="#7fa9a2" stroke-width="0.75" />
<line x1="386.90" y1="234.22" x2="386.90" y2="251.42" stroke="#7fa9a2" stroke-width="0.75" />
<line x1="385.10" y1="234.22" x2="388.70" y2="234.22" stroke="#7fa9a2" stroke-width="0.75" />
<line x1="385.10" y1="251.42" x2="388.70" y2="251.42" stroke="#7fa9a2" stroke-width="0.75" />
<line x1="398.30" y1="234.22" x2="398.30" y2="251.42" stroke="#7fa9a2" stroke-width="0.75" />
<line x1="396.50" y1="234.22" x2="400.10" y2="234.22" stroke="#7fa9a2" stroke-width="0.75" />
<line x1="396.50" y1="251.42" x2="400.10" y2="251.42" stroke="#7fa9a2" stroke-width="0.75" />
<line x1="409.70" y1="234.07" x2="409.70" y2="251.26" stroke="#7fa9a2" stroke-width="0.75" />
<line x1="407.90" y1="234.07" x2="411.50" y2="234.07" stroke="#7fa9a2" stroke-width="0.75" />
<line x1="407.90" y1="251.26" x2="411.50" y2="251.26" stroke="#7fa9a2" stroke-width="0.75" />
<line x1="421.10" y1="233.75" x2="421.10" y2="250.95" stroke="#7fa9a2" stroke-width="0.75" />
<line x1="419.30" y1="233.75" x2="422.90" y2="233.75" stroke="#7fa9a2" stroke-width="0.75" />
<line x1="419.30" y1="250.95" x2="422.90" y2="250.95" stroke="#7fa9a2" stroke-width="0.75" />
<line x1="432.50" y1="233.75" x2="432.50" y2="250.95" stroke="#7fa9a2" stroke-width="0.75" />
<line x1="430.70" y1="233.75" x2="434.30" y2="233.75" stroke="#7fa9a2" stroke-width="0.75" />
<line x1="430.70" y1="250.95" x2="434.30" y2="250.95" stroke="#7fa9a2" stroke-width="0.75" />
<line x1="443.90" y1="233.13" x2="443.90" y2="250.32" stroke="#7fa9a2" stroke-width="0.75" />
<line x1="442.10" y1="233.13" x2="445.70" y2="233.13" stroke="#7fa9a2" stroke-width="0.75" />
<line x1="442.10" y1="250.32" x2="445.70" y2="250.32" stroke="#7fa9a2" stroke-width="0.75" />
<line x1="455.30" y1="232.66" x2="455.30" y2="249.85" stroke="#7fa9a2" stroke-width="0.75" />
<line x1="453.50" y1="232.66" x2="457.10" y2="232.66" stroke="#7fa9a2" stroke-width="0.75" />
<line x1="453.50" y1="249.85" x2="457.10" y2="249.85" stroke="#7fa9a2" stroke-width="0.75" />
<line x1="329.90" y1="237.82" x2="329.90" y2="247.82" stroke="#f5ae40" stroke-width="0.75" />
<line x1="328.10" y1="237.82" x2="331.70" y2="237.82" stroke="#f5ae40" stroke-width="0.75" />
<line x1="328.10" y1="247.82" x2="331.70" y2="247.82" stroke="#f5ae40" stroke-width="0.75" />
<line x1="341.30" y1="236.10" x2="341.30" y2="248.60" stroke="#f5ae40" stroke-width="0.75" />
<line x1="339.50" y1="236.10" x2="343.10" y2="236.10" stroke="#f5ae40" stroke-width="0.75" />
<line x1="339.50" y1="248.60" x2="343.10" y2="248.60" stroke="#f5ae40" stroke-width="0.75" />
<line x1="352.70" y1="233.13" x2="352.70" y2="250.32" stroke="#f5ae40" stroke-width="0.75" />
<line x1="350.90" y1="233.13" x2="354.50" y2="233.13" stroke="#f5ae40" stroke-width="0.75" />
<line x1="350.90" y1="250.32" x2="354.50" y2="250.32" stroke="#f5ae40" stroke-width="0.75" />
<line x1="364.10" y1="232.97" x2="364.10" y2="251.73" stroke="#f5ae40" stroke-width="0.75" />
<line x1="362.30" y1="232.97" x2="365.90" y2="232.97" stroke="#f5ae40" stroke-width="0.75" />
<line x1="362.30" y1="251.73" x2="365.90" y2="251.73" stroke="#f5ae40" stroke-width="0.75" />
<line x1="375.50" y1="232.97" x2="375.50" y2="251.73" stroke="#f5ae40" stroke-width="0.75" />
<line x1="373.70" y1="232.97" x2="377.30" y2="232.97" stroke="#f5ae40" stroke-width="0.75" />
<line x1="373.70" y1="251.73" x2="377.30" y2="251.73" stroke="#f5ae40" stroke-width="0.75" />
<line x1="386.90" y1="232.03" x2="386.90" y2="251.42" stroke="#f5ae40" stroke-width="0.75" />
<line x1="385.10" y1="232.03" x2="388.70" y2="232.03" stroke="#f5ae40" stroke-width="0.75" />
<line x1="385.10" y1="251.42" x2="388.70" y2="251.42" stroke="#f5ae40" stroke-width="0.75" />
<line x1="398.30" y1="232.35" x2="398.30" y2="251.73" stroke="#f5ae40" stroke-width="0.75" />
<line x1="396.50" y1="232.35" x2="400.10" y2="232.35" stroke="#f5ae40" stroke-width="0.75" />
<line x1="396.50" y1="251.73" x2="400.10" y2="251.73" stroke="#f5ae40" stroke-width="0.75" />
<line x1="409.70" y1="232.03" x2="409.70" y2="251.42" stroke="#f5ae40" stroke-width="0.75" />
<line x1="407.90" y1="232.03" x2="411.50" y2="232.03" stroke="#f5ae40" stroke-width="0.75" />
<line x1="407.90" y1="251.42" x2="411.50" y2="251.42" stroke="#f5ae40" stroke-width="0.75" />
<line x1="421.10" y1="231.88" x2="421.10" y2="251.26" stroke="#f5ae40" stroke-width="0.75" />
<line x1="419.30" y1="231.88" x2="422.90" y2="231.88" stroke="#f5ae40" stroke-width="0.75" />
<line x1="419.30" y1="251.26" x2="422.90" y2="251.26" stroke="#f5ae40" stroke-width="0.75" />
<line x1="432.50" y1="231.57" x2="432.50" y2="250.95" stroke="#f5ae40" stroke-width="0.75" />
<line x1="430.70" y1="231.57" x2="434.30" y2="231.57" stroke="#f5ae40" stroke-width="0.75" />
<line x1="430.70" y1="250.95" x2="434.30" y2="250.95" stroke="#f5ae40" stroke-width="0.75" />
<line x1="443.90" y1="231.10" x2="443.90" y2="250.48" stroke="#f5ae40" stroke-width="0.75" />
<line x1="442.10" y1="231.10" x2="445.70" y2="231.10" stroke="#f5ae40" stroke-width="0.75" />
<line x1="442.10" y1="250.48" x2="445.70" y2="250.48" stroke="#f5ae40" stroke-width="0.75" />
<line x1="455.30" y1="229.69" x2="455.30" y2="250.01" stroke="#f5ae40" stroke-width="0.75" />
<line x1="453.50" y1="229.69" x2="457.10" y2="229.69" stroke="#f5ae40" stroke-width="0.75" />
<line x1="453.50" y1="250.01" x2="457.10" y2="250.01" stroke="#f5ae40" stroke-width="0.75" />
<line x1="329.90" y1="225.78" x2="329.90" y2="229.53" stroke="#4f6f90" stroke-width="0.75" />
<line x1="328.10" y1="225.78" x2="331.70" y2="225.78" stroke="#4f6f90" stroke-width="0.75" />
<line x1="328.10" y1="229.53" x2="331.70" y2="229.53" stroke="#4f6f90" stroke-width="0.75" />
<line x1="341.30" y1="217.97" x2="341.30" y2="224.84" stroke="#4f6f90" stroke-width="0.75" />
<line x1="339.50" y1="217.97" x2="343.10" y2="217.97" stroke="#4f6f90" stroke-width="0.75" />
<line x1="339.50" y1="224.84" x2="343.10" y2="224.84" stroke="#4f6f90" stroke-width="0.75" />
<line x1="352.70" y1="210.15" x2="352.70" y2="220.16" stroke="#4f6f90" stroke-width="0.75" />
<line x1="350.90" y1="210.15" x2="354.50" y2="210.15" stroke="#4f6f90" stroke-width="0.75" />
<line x1="350.90" y1="220.16" x2="354.50" y2="220.16" stroke="#4f6f90" stroke-width="0.75" />
<line x1="364.10" y1="209.68" x2="364.10" y2="220.62" stroke="#4f6f90" stroke-width="0.75" />
<line x1="362.30" y1="209.68" x2="365.90" y2="209.68" stroke="#4f6f90" stroke-width="0.75" />
<line x1="362.30" y1="220.62" x2="365.90" y2="220.62" stroke="#4f6f90" stroke-width="0.75" />
<line x1="375.50" y1="207.03" x2="375.50" y2="217.03" stroke="#4f6f90" stroke-width="0.75" />
<line x1="373.70" y1="207.03" x2="377.30" y2="207.03" stroke="#4f6f90" stroke-width="0.75" />
<line x1="373.70" y1="217.03" x2="377.30" y2="217.03" stroke="#4f6f90" stroke-width="0.75" />
<line x1="386.90" y1="202.02" x2="386.90" y2="215.15" stroke="#4f6f90" stroke-width="0.75" />
<line x1="385.10" y1="202.02" x2="388.70" y2="202.02" stroke="#4f6f90" stroke-width="0.75" />
<line x1="385.10" y1="215.15" x2="388.70" y2="215.15" stroke="#4f6f90" stroke-width="0.75" />
<line x1="398.30" y1="198.43" x2="398.30" y2="213.12" stroke="#4f6f90" stroke-width="0.75" />
<line x1="396.50" y1="198.43" x2="400.10" y2="198.43" stroke="#4f6f90" stroke-width="0.75" />
<line x1="396.50" y1="213.12" x2="400.10" y2="213.12" stroke="#4f6f90" stroke-width="0.75" />
<line x1="409.70" y1="197.65" x2="409.70" y2="213.28" stroke="#4f6f90" stroke-width="0.75" />
<line x1="407.90" y1="197.65" x2="411.50" y2="197.65" stroke="#4f6f90" stroke-width="0.75" />
<line x1="407.90" y1="213.28" x2="411.50" y2="213.28" stroke="#4f6f90" stroke-width="0.75" />
<line x1="421.10" y1="194.84" x2="421.10" y2="210.47" stroke="#4f6f90" stroke-width="0.75" />
<line x1="419.30" y1="194.84" x2="422.90" y2="194.84" stroke="#4f6f90" stroke-width="0.75" />
<line x1="419.30" y1="210.47" x2="422.90" y2="210.47" stroke="#4f6f90" stroke-width="0.75" />
<line x1="432.50" y1="196.09" x2="432.50" y2="213.28" stroke="#4f6f90" stroke-width="0.75" />
<line x1="430.70" y1="196.09" x2="434.30" y2="196.09" stroke="#4f6f90" stroke-width="0.75" />
<line x1="430.70" y1="213.28" x2="434.30" y2="213.28" stroke="#4f6f90" stroke-width="0.75" />
<line x1="443.90" y1="188.74" x2="443.90" y2="205.93" stroke="#4f6f90" stroke-width="0.75" />
<line x1="442.10" y1="188.74" x2="445.70" y2="188.74" stroke="#4f6f90" stroke-width="0.75" />
<line x1="442.10" y1="205.93" x2="445.70" y2="205.93" stroke="#4f6f90" stroke-width="0.75" />
<line x1="455.30" y1="186.39" x2="455.30" y2="206.71" stroke="#4f6f90" stroke-width="0.75" />
<line x1="453.50" y1="186.39" x2="457.10" y2="186.39" stroke="#4f6f90" stroke-width="0.75" />
<line x1="453.50" y1="206.71" x2="457.10" y2="206.71" stroke="#4f6f90" stroke-width="0.75" />
<polygon points="329.90,240.70 332.18,242.98 329.90,245.26 327.62,242.98" fill="#a3121e"/>
<polygon points="341.30,239.76 343.58,242.04 341.30,244.32 339.02,242.04" fill="#a3121e"/>
<polygon points="352.70,239.13 354.98,241.41 352.70,243.69 350.42,241.41" fill="#a3121e"/>
<polygon points="364.10,238.66 366.38,240.94 364.10,243.22 361.82,240.94" fill="#a3121e"/>
<polygon points="375.50,238.35 377.78,240.63 375.50,242.91 373.22,240.63" fill="#a3121e"/>
<polygon points="386.90,238.19 389.18,240.47 386.90,242.75 384.62,240.47" fill="#a3121e"/>
<polygon points="398.30,238.04 400.58,240.32 398.30,242.60 396.02,240.32" fill="#a3121e"/>
<polygon points="409.70,237.88 411.98,240.16 409.70,242.44 407.42,240.16" fill="#a3121e"/>
<polygon points="421.10,237.73 423.38,240.01 421.10,242.29 418.82,240.01" fill="#a3121e"/>
<polygon points="432.50,237.57 434.78,239.85 432.50,242.13 430.22,239.85" fill="#a3121e"/>
<polygon points="443.90,237.26 446.18,239.54 443.90,241.82 441.62,239.54" fill="#a3121e"/>
<polygon points="455.30,236.94 457.58,239.22 455.30,241.50 453.02,239.22" fill="#a3121e"/>
<polygon points="329.90,243.91 331.99,240.09 327.81,240.09" fill="#a6624e"/>
<polygon points="341.30,244.22 343.39,240.40 339.21,240.40" fill="#a6624e"/>
<polygon points="352.70,242.97 354.79,239.15 350.61,239.15" fill="#a6624e"/>
<polygon points="364.10,242.35 366.19,238.52 362.01,238.52" fill="#a6624e"/>
<polygon points="375.50,242.03 377.59,238.21 373.41,238.21" fill="#a6624e"/>
<polygon points="386.90,241.57 388.99,237.74 384.81,237.74" fill="#a6624e"/>
<polygon points="398.30,241.41 400.39,237.59 396.21,237.59" fill="#a6624e"/>
<polygon points="409.70,241.41 411.79,237.59 407.61,237.59" fill="#a6624e"/>
<polygon points="421.10,241.25 423.19,237.43 419.01,237.43" fill="#a6624e"/>
<polygon points="432.50,241.10 434.59,237.27 430.41,237.27" fill="#a6624e"/>
<polygon points="443.90,240.78 445.99,236.96 441.81,236.96" fill="#a6624e"/>
<polygon points="455.30,240.47 457.39,236.65 453.21,236.65" fill="#a6624e"/>
<polygon points="329.90,241.42 331.99,245.24 327.81,245.24" fill="#5f9088"/>
<polygon points="341.30,241.73 343.39,245.55 339.21,245.55" fill="#5f9088"/>
<polygon points="352.70,241.10 354.79,244.93 350.61,244.93" fill="#5f9088"/>
<polygon points="364.10,241.42 366.19,245.24 362.01,245.24" fill="#5f9088"/>
<polygon points="375.50,241.10 377.59,244.93 373.41,244.93" fill="#5f9088"/>
<polygon points="386.90,240.63 388.99,244.46 384.81,244.46" fill="#5f9088"/>
<polygon points="398.30,240.63 400.39,244.46 396.21,244.46" fill="#5f9088"/>
<polygon points="409.70,240.48 411.79,244.30 407.61,244.30" fill="#5f9088"/>
<polygon points="421.10,240.17 423.19,243.99 419.01,243.99" fill="#5f9088"/>
<polygon points="432.50,240.17 434.59,243.99 430.41,243.99" fill="#5f9088"/>
<polygon points="443.90,239.54 445.99,243.36 441.81,243.36" fill="#5f9088"/>
<polygon points="455.30,239.07 457.39,242.89 453.21,242.89" fill="#5f9088"/>
<rect x="327.60" y="240.52" width="4.60" height="4.60" fill="#f39a0f"/>
<rect x="339.00" y="240.05" width="4.60" height="4.60" fill="#f39a0f"/>
<rect x="350.40" y="239.43" width="4.60" height="4.60" fill="#f39a0f"/>
<rect x="361.80" y="240.05" width="4.60" height="4.60" fill="#f39a0f"/>
<rect x="373.20" y="240.05" width="4.60" height="4.60" fill="#f39a0f"/>
<rect x="384.60" y="239.43" width="4.60" height="4.60" fill="#f39a0f"/>
<rect x="396.00" y="239.74" width="4.60" height="4.60" fill="#f39a0f"/>
<rect x="407.40" y="239.43" width="4.60" height="4.60" fill="#f39a0f"/>
<rect x="418.80" y="239.27" width="4.60" height="4.60" fill="#f39a0f"/>
<rect x="430.20" y="238.96" width="4.60" height="4.60" fill="#f39a0f"/>
<rect x="441.60" y="238.49" width="4.60" height="4.60" fill="#f39a0f"/>
<rect x="453.00" y="237.55" width="4.60" height="4.60" fill="#f39a0f"/>
<circle cx="329.90" cy="227.66" r="1.90" fill="#173b5f"/>
<circle cx="341.30" cy="221.41" r="1.90" fill="#173b5f"/>
<circle cx="352.70" cy="215.15" r="1.90" fill="#173b5f"/>
<circle cx="364.10" cy="215.15" r="1.90" fill="#173b5f"/>
<circle cx="375.50" cy="212.03" r="1.90" fill="#173b5f"/>
<circle cx="386.90" cy="208.59" r="1.90" fill="#173b5f"/>
<circle cx="398.30" cy="205.78" r="1.90" fill="#173b5f"/>
<circle cx="409.70" cy="205.46" r="1.90" fill="#173b5f"/>
<circle cx="421.10" cy="202.65" r="1.90" fill="#173b5f"/>
<circle cx="432.50" cy="204.68" r="1.90" fill="#173b5f"/>
<circle cx="443.90" cy="197.34" r="1.90" fill="#173b5f"/>
<circle cx="455.30" cy="196.55" r="1.90" fill="#173b5f"/>
<path d="M460,196.6 L464.4,196.6 L464.4,239.3 L460,239.3" fill="none" stroke="#444" stroke-width="0.8"/>
<text x="470.90" y="223.40" font-size="9" text-anchor="middle" font-weight="bold" fill="#111" >**</text>
<line x1="483.60" y1="193.20" x2="493.60" y2="193.20" stroke="#173b5f" stroke-width="0.8" />
<circle cx="488.60" cy="193.20" r="1.90" fill="#173b5f"/>
<text x="498.70" y="195.61" font-size="7.3" text-anchor="start" font-weight="normal" fill="#111" >Nor (n=10)</text>
<line x1="483.60" y1="206.30" x2="493.60" y2="206.30" stroke="#f39a0f" stroke-width="0.8" />
<rect x="486.70" y="204.40" width="3.80" height="3.80" fill="#f39a0f"/>
<text x="498.70" y="208.71" font-size="7.3" text-anchor="start" font-weight="normal" fill="#111" >STZ (n=10)</text>
<line x1="483.60" y1="220.00" x2="493.60" y2="220.00" stroke="#5f9088" stroke-width="0.8" />
<polygon points="488.60,217.81 490.69,221.64 486.51,221.64" fill="#5f9088"/>
<text x="498.70" y="222.41" font-size="7.3" text-anchor="start" font-weight="normal" fill="#111" >Mal 25 (n=10)</text>
<line x1="483.60" y1="232.70" x2="493.60" y2="232.70" stroke="#a6624e" stroke-width="0.8" />
<polygon points="488.60,234.88 490.69,231.06 486.51,231.06" fill="#a6624e"/>
<text x="498.70" y="235.11" font-size="7.3" text-anchor="start" font-weight="normal" fill="#111" >Mal 100 (n=10)</text>
<line x1="483.60" y1="245.50" x2="493.60" y2="245.50" stroke="#a3121e" stroke-width="0.8" />
<polygon points="488.60,243.22 490.88,245.50 488.60,247.78 486.32,245.50" fill="#a3121e"/>
<text x="498.70" y="247.91" font-size="7.3" text-anchor="start" font-weight="normal" fill="#111" >ALA 100 (n=10)</text>
<text x="0" y="0" font-size="16.2" fill="#111" transform="translate(8.00,341.50) scale(0.87,1)">D</text>
<rect x="53.40" y="412.95" width="14.40" height="33.05" fill="#173b5f" stroke="#111" stroke-width="1.15" />
<line x1="60.60" y1="414.65" x2="60.60" y2="411.25" stroke="#9c9c9c" stroke-width="0.8" />
<line x1="56.90" y1="411.25" x2="64.30" y2="411.25" stroke="#9c9c9c" stroke-width="0.8" />
<line x1="56.90" y1="414.65" x2="64.30" y2="414.65" stroke="#555" stroke-width="0.7" />
<rect x="72.30" y="367.75" width="14.20" height="78.25" fill="#f39a0f" stroke="#111" stroke-width="1.15" />
<line x1="79.40" y1="372.13" x2="79.40" y2="363.38" stroke="#9c9c9c" stroke-width="0.8" />
<line x1="75.70" y1="363.38" x2="83.10" y2="363.38" stroke="#9c9c9c" stroke-width="0.8" />
<line x1="75.70" y1="372.13" x2="83.10" y2="372.13" stroke="#555" stroke-width="0.7" />
<rect x="91.30" y="374.07" width="14.20" height="71.93" fill="#5f9088" stroke="#111" stroke-width="1.15" />
<line x1="98.40" y1="377.96" x2="98.40" y2="370.18" stroke="#9c9c9c" stroke-width="0.8" />
<line x1="94.70" y1="370.18" x2="102.10" y2="370.18" stroke="#9c9c9c" stroke-width="0.8" />
<line x1="94.70" y1="377.96" x2="102.10" y2="377.96" stroke="#555" stroke-width="0.7" />
<rect x="110.40" y="373.10" width="14.10" height="72.90" fill="#a6624e" stroke="#111" stroke-width="1.15" />
<line x1="117.45" y1="377.96" x2="117.45" y2="368.24" stroke="#9c9c9c" stroke-width="0.8" />
<line x1="113.75" y1="368.24" x2="121.15" y2="368.24" stroke="#9c9c9c" stroke-width="0.8" />
<line x1="113.75" y1="377.96" x2="121.15" y2="377.96" stroke="#555" stroke-width="0.7" />
<rect x="129.00" y="372.13" width="14.60" height="73.87" fill="#a3121e" stroke="#111" stroke-width="1.15" />
<line x1="136.30" y1="376.99" x2="136.30" y2="367.27" stroke="#9c9c9c" stroke-width="0.8" />
<line x1="132.60" y1="367.27" x2="140.00" y2="367.27" stroke="#9c9c9c" stroke-width="0.8" />
<line x1="132.60" y1="376.99" x2="140.00" y2="376.99" stroke="#555" stroke-width="0.7" />
<line x1="45.20" y1="348.80" x2="45.20" y2="446.00" stroke="#1a1a1a" stroke-width="1.1" />
<line x1="41.60" y1="446.00" x2="45.20" y2="446.00" stroke="#1a1a1a" stroke-width="1.1" />
<text x="39.90" y="448.45" font-size="7.2" text-anchor="end" font-weight="bold" fill="#111" >0</text>
<line x1="41.60" y1="421.70" x2="45.20" y2="421.70" stroke="#1a1a1a" stroke-width="1.1" />
<text x="39.90" y="424.15" font-size="7.2" text-anchor="end" font-weight="bold" fill="#111" >5</text>
<line x1="41.60" y1="397.40" x2="45.20" y2="397.40" stroke="#1a1a1a" stroke-width="1.1" />
<text x="39.90" y="399.85" font-size="7.2" text-anchor="end" font-weight="bold" fill="#111" >10</text>
<line x1="41.60" y1="373.10" x2="45.20" y2="373.10" stroke="#1a1a1a" stroke-width="1.1" />
<text x="39.90" y="375.55" font-size="7.2" text-anchor="end" font-weight="bold" fill="#111" >15</text>
<line x1="41.60" y1="348.80" x2="45.20" y2="348.80" stroke="#1a1a1a" stroke-width="1.1" />
<text x="39.90" y="351.25" font-size="7.2" text-anchor="end" font-weight="bold" fill="#111" >20</text>
<line x1="45.20" y1="446.00" x2="151.30" y2="446.00" stroke="#1a1a1a" stroke-width="1.0" />
<rect x="172.30" y="353.60" width="10.60" height="5.80" fill="#173b5f" stroke="#111" stroke-width="0.8" />
<text x="188.60" y="359.11" font-size="7.9" text-anchor="start" font-weight="normal" fill="#111" >Nor (n=9)</text>
<rect x="172.30" y="366.60" width="10.60" height="5.80" fill="#f39a0f" stroke="#111" stroke-width="0.8" />
<text x="188.60" y="372.11" font-size="7.9" text-anchor="start" font-weight="normal" fill="#111" >STZ (n=10)</text>
<rect x="172.30" y="380.30" width="10.60" height="5.80" fill="#5f9088" stroke="#111" stroke-width="0.8" />
<text x="188.60" y="385.81" font-size="7.9" text-anchor="start" font-weight="normal" fill="#111" >Mal 25 (n=10)</text>
<rect x="172.30" y="393.90" width="10.60" height="5.80" fill="#a6624e" stroke="#111" stroke-width="0.8" />
<text x="188.60" y="399.41" font-size="7.9" text-anchor="start" font-weight="normal" fill="#111" >Mal 100 (n=10)</text>
<rect x="172.30" y="407.20" width="10.60" height="5.80" fill="#a3121e" stroke="#111" stroke-width="0.8" />
<text x="188.60" y="412.71" font-size="7.9" text-anchor="start" font-weight="normal" fill="#111" >ALA 100 (n=10)</text>
<text x="0" y="0" font-size="7.4" font-weight="bold" text-anchor="middle" fill="#111" transform="translate(26.80,398.20) rotate(-90)">HbA1c (%)</text>
<text x="79.40" y="350.50" font-size="5.5" text-anchor="middle" font-weight="bold" fill="#444" style="stroke:none">****</text>
<text x="0" y="0" font-size="16.2" fill="#111" transform="translate(273.00,341.50) scale(0.87,1)">E</text>
<line x1="320.70" y1="347.68" x2="320.70" y2="446.00" stroke="#1a1a1a" stroke-width="1.1" />
<line x1="317.10" y1="446.00" x2="320.70" y2="446.00" stroke="#1a1a1a" stroke-width="1.1" />
<text x="315.40" y="448.45" font-size="7.2" text-anchor="end" font-weight="bold" fill="#111" >10</text>
<line x1="317.10" y1="421.42" x2="320.70" y2="421.42" stroke="#1a1a1a" stroke-width="1.1" />
<text x="315.40" y="423.87" font-size="7.2" text-anchor="end" font-weight="bold" fill="#111" >20</text>
<line x1="317.10" y1="396.84" x2="320.70" y2="396.84" stroke="#1a1a1a" stroke-width="1.1" />
<text x="315.40" y="399.29" font-size="7.2" text-anchor="end" font-weight="bold" fill="#111" >30</text>
<line x1="317.10" y1="372.26" x2="320.70" y2="372.26" stroke="#1a1a1a" stroke-width="1.1" />
<text x="315.40" y="374.71" font-size="7.2" text-anchor="end" font-weight="bold" fill="#111" >40</text>
<line x1="317.10" y1="347.68" x2="320.70" y2="347.68" stroke="#1a1a1a" stroke-width="1.1" />
<text x="315.40" y="350.13" font-size="7.2" text-anchor="end" font-weight="bold" fill="#111" >50</text>
<line x1="320.70" y1="446.00" x2="420.00" y2="446.00" stroke="#1a1a1a" stroke-width="1.0" />
<text x="0" y="0" font-size="7.6" font-weight="bold" text-anchor="middle" fill="#111" transform="translate(300.90,397.90) rotate(-90)">Withdrawal threshold (g)</text>
<circle cx="448.50" cy="355.30" r="1.70" fill="#173b5f"/>
<text x="459.90" y="357.91" font-size="7.9" text-anchor="start" font-weight="normal" fill="#111" >Nor (n=8)</text>
<rect x="446.80" y="366.70" width="3.40" height="3.40" fill="#f39a0f"/>
<text x="459.90" y="371.01" font-size="7.9" text-anchor="start" font-weight="normal" fill="#111" >STZ (n=9)</text>
<polygon points="448.50,380.15 450.37,383.57 446.63,383.57" fill="#5f9088"/>
<text x="459.90" y="384.71" font-size="7.9" text-anchor="start" font-weight="normal" fill="#111" >Mal 25 (n=10)</text>
<polygon points="448.50,397.56 450.37,394.13 446.63,394.13" fill="#a6624e"/>
<text x="459.90" y="398.21" font-size="7.9" text-anchor="start" font-weight="normal" fill="#111" >Mal 100 (n=10)</text>
<polygon points="448.50,407.36 450.54,409.40 448.50,411.44 446.46,409.40" fill="#a3121e"/>
<text x="459.90" y="412.01" font-size="7.9" text-anchor="start" font-weight="normal" fill="#111" >ALA 100 (n=9)</text>
<text x="0" y="0" font-size="16.2" fill="#111" transform="translate(8.00,493.50) scale(0.87,1)">F</text>
<line x1="44.50" y1="504.00" x2="44.50" y2="602.80" stroke="#1a1a1a" stroke-width="1.1" />
<line x1="40.90" y1="603.00" x2="44.50" y2="603.00" stroke="#1a1a1a" stroke-width="1.1" />
<text x="39.20" y="605.45" font-size="7.2" text-anchor="end" font-weight="bold" fill="#111" >0</text>
<line x1="40.90" y1="570.00" x2="44.50" y2="570.00" stroke="#1a1a1a" stroke-width="1.1" />
<text x="39.20" y="572.45" font-size="7.2" text-anchor="end" font-weight="bold" fill="#111" >5</text>
<line x1="40.90" y1="537.00" x2="44.50" y2="537.00" stroke="#1a1a1a" stroke-width="1.1" />
<text x="39.20" y="539.45" font-size="7.2" text-anchor="end" font-weight="bold" fill="#111" >10</text>
<line x1="40.90" y1="504.00" x2="44.50" y2="504.00" stroke="#1a1a1a" stroke-width="1.1" />
<text x="39.20" y="506.45" font-size="7.2" text-anchor="end" font-weight="bold" fill="#111" >15</text>
<line x1="44.50" y1="602.80" x2="144.50" y2="602.80" stroke="#1a1a1a" stroke-width="1.0" />
<text x="0" y="0" font-size="7.5" font-weight="bold" text-anchor="middle" fill="#111" transform="translate(25.40,554.50) rotate(-90)">Withdrawal latency (s)</text>
<circle cx="172.80" cy="511.50" r="1.70" fill="#173b5f"/>
<text x="184.10" y="514.11" font-size="7.9" text-anchor="start" font-weight="normal" fill="#111" >Nor (n=8)</text>
<rect x="171.10" y="523.40" width="3.40" height="3.40" fill="#f39a0f"/>
<text x="184.10" y="527.71" font-size="7.9" text-anchor="start" font-weight="normal" fill="#111" >STZ (n=8)</text>
<polygon points="172.80,537.14 174.67,540.57 170.93,540.57" fill="#5f9088"/>
<text x="184.10" y="541.71" font-size="7.9" text-anchor="start" font-weight="normal" fill="#111" >Mal 25 (n=10)</text>
<polygon points="172.80,554.66 174.67,551.23 170.93,551.23" fill="#a6624e"/>
<text x="184.10" y="555.31" font-size="7.9" text-anchor="start" font-weight="normal" fill="#111" >Mal 100 (n=10)</text>
<polygon points="172.80,563.96 174.84,566.00 172.80,568.04 170.76,566.00" fill="#a3121e"/>
<text x="184.10" y="568.61" font-size="7.9" text-anchor="start" font-weight="normal" fill="#111" >ALA 100 (n=9)</text>
<line x1="333.40" y1="364.89" x2="333.40" y2="388.97" stroke="#173b5f" stroke-width="1.05" />
<line x1="328.80" y1="375.46" x2="338.00" y2="375.46" stroke="#173b5f" stroke-width="1.05" />
<line x1="330.60" y1="364.89" x2="336.20" y2="364.89" stroke="#173b5f" stroke-width="1.05" />
<line x1="330.60" y1="388.97" x2="336.20" y2="388.97" stroke="#173b5f" stroke-width="1.05" />
<line x1="352.00" y1="381.11" x2="352.00" y2="413.31" stroke="#f39a0f" stroke-width="1.05" />
<line x1="347.40" y1="397.09" x2="356.60" y2="397.09" stroke="#f39a0f" stroke-width="1.05" />
<line x1="349.20" y1="381.11" x2="354.80" y2="381.11" stroke="#f39a0f" stroke-width="1.05" />
<line x1="349.20" y1="413.31" x2="354.80" y2="413.31" stroke="#f39a0f" stroke-width="1.05" />
<line x1="370.50" y1="384.55" x2="370.50" y2="404.71" stroke="#5f9088" stroke-width="1.05" />
<line x1="365.90" y1="395.61" x2="375.10" y2="395.61" stroke="#5f9088" stroke-width="1.05" />
<line x1="367.70" y1="384.55" x2="373.30" y2="384.55" stroke="#5f9088" stroke-width="1.05" />
<line x1="367.70" y1="404.71" x2="373.30" y2="404.71" stroke="#5f9088" stroke-width="1.05" />
<line x1="389.00" y1="376.44" x2="389.00" y2="387.99" stroke="#a6624e" stroke-width="1.05" />
<line x1="384.40" y1="381.85" x2="393.60" y2="381.85" stroke="#a6624e" stroke-width="1.05" />
<line x1="386.20" y1="376.44" x2="391.80" y2="376.44" stroke="#a6624e" stroke-width="1.05" />
<line x1="386.20" y1="387.99" x2="391.80" y2="387.99" stroke="#a6624e" stroke-width="1.05" />
<line x1="407.60" y1="371.77" x2="407.60" y2="393.64" stroke="#a3121e" stroke-width="1.05" />
<line x1="403.00" y1="383.08" x2="412.20" y2="383.08" stroke="#a3121e" stroke-width="1.05" />
<line x1="404.80" y1="371.77" x2="410.40" y2="371.77" stroke="#a3121e" stroke-width="1.05" />
<line x1="404.80" y1="393.64" x2="410.40" y2="393.64" stroke="#a3121e" stroke-width="1.05" />
<line x1="57.40" y1="523.80" x2="57.40" y2="535.02" stroke="#173b5f" stroke-width="1.05" />
<line x1="52.80" y1="528.42" x2="62.00" y2="528.42" stroke="#173b5f" stroke-width="1.05" />
<line x1="54.60" y1="523.80" x2="60.20" y2="523.80" stroke="#173b5f" stroke-width="1.05" />
<line x1="54.60" y1="535.02" x2="60.20" y2="535.02" stroke="#173b5f" stroke-width="1.05" />
<line x1="75.90" y1="543.60" x2="75.90" y2="566.70" stroke="#f39a0f" stroke-width="1.05" />
<line x1="71.30" y1="554.82" x2="80.50" y2="554.82" stroke="#f39a0f" stroke-width="1.05" />
<line x1="73.10" y1="543.60" x2="78.70" y2="543.60" stroke="#f39a0f" stroke-width="1.05" />
<line x1="73.10" y1="566.70" x2="78.70" y2="566.70" stroke="#f39a0f" stroke-width="1.05" />
<line x1="94.60" y1="537.66" x2="94.60" y2="562.08" stroke="#5f9088" stroke-width="1.05" />
<line x1="90.00" y1="548.88" x2="99.20" y2="548.88" stroke="#5f9088" stroke-width="1.05" />
<line x1="91.80" y1="537.66" x2="97.40" y2="537.66" stroke="#5f9088" stroke-width="1.05" />
<line x1="91.80" y1="562.08" x2="97.40" y2="562.08" stroke="#5f9088" stroke-width="1.05" />
<line x1="113.50" y1="527.10" x2="113.50" y2="550.20" stroke="#a6624e" stroke-width="1.05" />
<line x1="108.90" y1="538.98" x2="118.10" y2="538.98" stroke="#a6624e" stroke-width="1.05" />
<line x1="110.70" y1="527.10" x2="116.30" y2="527.10" stroke="#a6624e" stroke-width="1.05" />
<line x1="110.70" y1="550.20" x2="116.30" y2="550.20" stroke="#a6624e" stroke-width="1.05" />
<line x1="132.30" y1="529.08" x2="132.30" y2="550.86" stroke="#a3121e" stroke-width="1.05" />
<line x1="127.70" y1="540.30" x2="136.90" y2="540.30" stroke="#a3121e" stroke-width="1.05" />
<line x1="129.50" y1="529.08" x2="135.10" y2="529.08" stroke="#a3121e" stroke-width="1.05" />
<line x1="129.50" y1="550.86" x2="135.10" y2="550.86" stroke="#a3121e" stroke-width="1.05" />
<text x="0" y="0" font-size="16.2" fill="#111" transform="translate(272.50,493.50) scale(0.87,1)">G</text>
<rect x="329.20" y="529.18" width="14.00" height="73.42" fill="#173b5f" stroke="#111" stroke-width="1.15" />
<line x1="336.20" y1="536.14" x2="336.20" y2="522.23" stroke="#9c9c9c" stroke-width="0.8" />
<line x1="332.50" y1="522.23" x2="339.90" y2="522.23" stroke="#9c9c9c" stroke-width="0.8" />
<line x1="332.50" y1="536.14" x2="339.90" y2="536.14" stroke="#555" stroke-width="0.7" />
<rect x="347.40" y="567.82" width="14.00" height="34.78" fill="#f39a0f" stroke="#111" stroke-width="1.15" />
<line x1="354.40" y1="571.30" x2="354.40" y2="564.35" stroke="#9c9c9c" stroke-width="0.8" />
<line x1="350.70" y1="564.35" x2="358.10" y2="564.35" stroke="#9c9c9c" stroke-width="0.8" />
<line x1="350.70" y1="571.30" x2="358.10" y2="571.30" stroke="#555" stroke-width="0.7" />
<rect x="365.50" y="562.03" width="14.10" height="40.57" fill="#5f9088" stroke="#111" stroke-width="1.15" />
<line x1="372.55" y1="564.35" x2="372.55" y2="559.71" stroke="#9c9c9c" stroke-width="0.8" />
<line x1="368.85" y1="559.71" x2="376.25" y2="559.71" stroke="#9c9c9c" stroke-width="0.8" />
<line x1="368.85" y1="564.35" x2="376.25" y2="564.35" stroke="#555" stroke-width="0.7" />
<rect x="383.60" y="550.44" width="14.00" height="52.16" fill="#a6624e" stroke="#111" stroke-width="1.15" />
<line x1="390.60" y1="553.53" x2="390.60" y2="547.34" stroke="#9c9c9c" stroke-width="0.8" />
<line x1="386.90" y1="547.34" x2="394.30" y2="547.34" stroke="#9c9c9c" stroke-width="0.8" />
<line x1="386.90" y1="553.53" x2="394.30" y2="553.53" stroke="#555" stroke-width="0.7" />
<rect x="402.20" y="553.72" width="13.30" height="48.88" fill="#a3121e" stroke="#111" stroke-width="1.15" />
<line x1="408.85" y1="557.58" x2="408.85" y2="549.86" stroke="#9c9c9c" stroke-width="0.8" />
<line x1="405.15" y1="549.86" x2="412.55" y2="549.86" stroke="#9c9c9c" stroke-width="0.8" />
<line x1="405.15" y1="557.58" x2="412.55" y2="557.58" stroke="#555" stroke-width="0.7" />
<line x1="321.50" y1="506.00" x2="321.50" y2="602.60" stroke="#1a1a1a" stroke-width="1.1" />
<line x1="317.90" y1="602.60" x2="321.50" y2="602.60" stroke="#1a1a1a" stroke-width="1.1" />
<text x="316.20" y="605.05" font-size="7.2" text-anchor="end" font-weight="bold" fill="#111" >0</text>
<line x1="317.90" y1="583.28" x2="321.50" y2="583.28" stroke="#1a1a1a" stroke-width="1.1" />
<text x="316.20" y="585.73" font-size="7.2" text-anchor="end" font-weight="bold" fill="#111" >10</text>
<line x1="317.90" y1="563.96" x2="321.50" y2="563.96" stroke="#1a1a1a" stroke-width="1.1" />
<text x="316.20" y="566.41" font-size="7.2" text-anchor="end" font-weight="bold" fill="#111" >20</text>
<line x1="317.90" y1="544.64" x2="321.50" y2="544.64" stroke="#1a1a1a" stroke-width="1.1" />
<text x="316.20" y="547.09" font-size="7.2" text-anchor="end" font-weight="bold" fill="#111" >30</text>
<line x1="317.90" y1="525.32" x2="321.50" y2="525.32" stroke="#1a1a1a" stroke-width="1.1" />
<text x="316.20" y="527.77" font-size="7.2" text-anchor="end" font-weight="bold" fill="#111" >40</text>
<line x1="317.90" y1="506.00" x2="321.50" y2="506.00" stroke="#1a1a1a" stroke-width="1.1" />
<text x="316.20" y="508.45" font-size="7.2" text-anchor="end" font-weight="bold" fill="#111" >50</text>
<line x1="321.50" y1="602.60" x2="422.70" y2="602.60" stroke="#1a1a1a" stroke-width="1.0" />
<rect x="443.20" y="509.30" width="10.60" height="5.80" fill="#173b5f" stroke="#111" stroke-width="0.8" />
<text x="459.00" y="514.81" font-size="7.9" text-anchor="start" font-weight="normal" fill="#111" >Nor (n=8)</text>
<rect x="443.20" y="523.50" width="10.60" height="5.80" fill="#f39a0f" stroke="#111" stroke-width="0.8" />
<text x="459.00" y="529.01" font-size="7.9" text-anchor="start" font-weight="normal" fill="#111" >STZ (n=7)</text>
<rect x="443.20" y="536.70" width="10.60" height="5.80" fill="#5f9088" stroke="#111" stroke-width="0.8" />
<text x="459.00" y="542.21" font-size="7.9" text-anchor="start" font-weight="normal" fill="#111" >Mal 25 (n=10)</text>
<rect x="443.20" y="550.20" width="10.60" height="5.80" fill="#a6624e" stroke="#111" stroke-width="0.8" />
<text x="459.00" y="555.71" font-size="7.9" text-anchor="start" font-weight="normal" fill="#111" >Mal 100 (n=9)</text>
<rect x="443.20" y="564.00" width="10.60" height="5.80" fill="#a3121e" stroke="#111" stroke-width="0.8" />
<text x="459.00" y="569.51" font-size="7.9" text-anchor="start" font-weight="normal" fill="#111" >ALA 100 (n=8)</text>
<text x="0" y="0" font-size="7.7" font-weight="bold" text-anchor="middle" fill="#111" transform="translate(304.80,554.20) rotate(-90)">MNCV (m/s)</text>
<text x="0" y="0" font-size="16.2" fill="#111" transform="translate(8.00,662.50) scale(0.87,1)">H</text>
<rect x="52.40" y="703.30" width="14.50" height="58.20" fill="#173b5f" stroke="#111" stroke-width="1.15" />
<line x1="59.65" y1="706.70" x2="59.65" y2="699.90" stroke="#9c9c9c" stroke-width="0.8" />
<line x1="55.95" y1="699.90" x2="63.35" y2="699.90" stroke="#9c9c9c" stroke-width="0.8" />
<line x1="55.95" y1="706.70" x2="63.35" y2="706.70" stroke="#555" stroke-width="0.7" />
<rect x="71.30" y="724.64" width="14.20" height="36.86" fill="#f39a0f" stroke="#111" stroke-width="1.15" />
<line x1="78.40" y1="729.00" x2="78.40" y2="720.27" stroke="#9c9c9c" stroke-width="0.8" />
<line x1="74.70" y1="720.27" x2="82.10" y2="720.27" stroke="#9c9c9c" stroke-width="0.8" />
<line x1="74.70" y1="729.00" x2="82.10" y2="729.00" stroke="#555" stroke-width="0.7" />
<rect x="89.50" y="708.15" width="14.50" height="53.35" fill="#5f9088" stroke="#111" stroke-width="1.15" />
<line x1="96.75" y1="713.00" x2="96.75" y2="703.30" stroke="#9c9c9c" stroke-width="0.8" />
<line x1="93.05" y1="703.30" x2="100.45" y2="703.30" stroke="#9c9c9c" stroke-width="0.8" />
<line x1="93.05" y1="713.00" x2="100.45" y2="713.00" stroke="#555" stroke-width="0.7" />
<rect x="108.50" y="705.24" width="14.20" height="56.26" fill="#a6624e" stroke="#111" stroke-width="1.15" />
<line x1="115.60" y1="710.09" x2="115.60" y2="700.39" stroke="#9c9c9c" stroke-width="0.8" />
<line x1="111.90" y1="700.39" x2="119.30" y2="700.39" stroke="#9c9c9c" stroke-width="0.8" />
<line x1="111.90" y1="710.09" x2="119.30" y2="710.09" stroke="#555" stroke-width="0.7" />
<rect x="127.60" y="689.72" width="14.20" height="71.78" fill="#a3121e" stroke="#111" stroke-width="1.15" />
<line x1="134.70" y1="697.48" x2="134.70" y2="681.96" stroke="#9c9c9c" stroke-width="0.8" />
<line x1="131.00" y1="681.96" x2="138.40" y2="681.96" stroke="#9c9c9c" stroke-width="0.8" />
<line x1="131.00" y1="697.48" x2="138.40" y2="697.48" stroke="#555" stroke-width="0.7" />
<line x1="44.50" y1="664.50" x2="44.50" y2="761.50" stroke="#1a1a1a" stroke-width="1.1" />
<line x1="40.90" y1="761.50" x2="44.50" y2="761.50" stroke="#1a1a1a" stroke-width="1.1" />
<text x="39.20" y="763.95" font-size="7.2" text-anchor="end" font-weight="bold" fill="#111" >0</text>
<line x1="40.90" y1="742.10" x2="44.50" y2="742.10" stroke="#1a1a1a" stroke-width="1.1" />
<text x="39.20" y="744.55" font-size="7.2" text-anchor="end" font-weight="bold" fill="#111" >2</text>
<line x1="40.90" y1="722.70" x2="44.50" y2="722.70" stroke="#1a1a1a" stroke-width="1.1" />
<text x="39.20" y="725.15" font-size="7.2" text-anchor="end" font-weight="bold" fill="#111" >4</text>
<line x1="40.90" y1="703.30" x2="44.50" y2="703.30" stroke="#1a1a1a" stroke-width="1.1" />
<text x="39.20" y="705.75" font-size="7.2" text-anchor="end" font-weight="bold" fill="#111" >6</text>
<line x1="40.90" y1="683.90" x2="44.50" y2="683.90" stroke="#1a1a1a" stroke-width="1.1" />
<text x="39.20" y="686.35" font-size="7.2" text-anchor="end" font-weight="bold" fill="#111" >8</text>
<line x1="40.90" y1="664.50" x2="44.50" y2="664.50" stroke="#1a1a1a" stroke-width="1.1" />
<text x="39.20" y="666.95" font-size="7.2" text-anchor="end" font-weight="bold" fill="#111" >10</text>
<line x1="44.50" y1="761.50" x2="149.00" y2="761.50" stroke="#1a1a1a" stroke-width="1.0" />
<rect x="170.00" y="668.80" width="10.60" height="5.80" fill="#173b5f" stroke="#111" stroke-width="0.8" />
<text x="186.40" y="674.31" font-size="7.9" text-anchor="start" font-weight="normal" fill="#111" >Nor (n=6)</text>
<rect x="170.00" y="681.60" width="10.60" height="5.80" fill="#f39a0f" stroke="#111" stroke-width="0.8" />
<text x="186.40" y="687.11" font-size="7.9" text-anchor="start" font-weight="normal" fill="#111" >STZ (n=8)</text>
<rect x="170.00" y="695.40" width="10.60" height="5.80" fill="#5f9088" stroke="#111" stroke-width="0.8" />
<text x="186.40" y="700.91" font-size="7.9" text-anchor="start" font-weight="normal" fill="#111" >Mal 25 (n=6)</text>
<rect x="170.00" y="709.40" width="10.60" height="5.80" fill="#a6624e" stroke="#111" stroke-width="0.8" />
<text x="186.40" y="714.91" font-size="7.9" text-anchor="start" font-weight="normal" fill="#111" >Mal 100 (n=7)</text>
<rect x="170.00" y="723.00" width="10.60" height="5.80" fill="#a3121e" stroke="#111" stroke-width="0.8" />
<text x="186.40" y="728.51" font-size="7.9" text-anchor="start" font-weight="normal" fill="#111" >ALA 100 (n=6)</text>
<text x="0" y="0" font-size="7.5" font-weight="bold" text-anchor="middle" fill="#111" transform="translate(16.30,714.60) rotate(-90)">Na<tspan font-size="5" dy="-3">+</tspan><tspan dy="3">-K</tspan><tspan font-size="5" dy="-3">+</tspan><tspan dy="3">-ATPase in</tspan></text>
<text x="0" y="0" font-size="7.8" font-weight="bold" text-anchor="middle" fill="#111" transform="translate(26.70,713.30) rotate(-90)">erythrocyte&#160; (U/mL)</text>
<circle cx="54.20" cy="409.50" r="1.55" fill="#000"/>
<circle cx="58.40" cy="411.00" r="1.55" fill="#000"/>
<circle cx="66.60" cy="408.80" r="1.55" fill="#000"/>
<circle cx="62.40" cy="413.00" r="1.55" fill="#000"/>
<circle cx="58.00" cy="418.60" r="1.55" fill="#000"/>
<circle cx="62.40" cy="417.90" r="1.55" fill="#000"/>
<circle cx="54.40" cy="412.00" r="1.55" fill="#000"/>
<circle cx="66.70" cy="412.50" r="1.55" fill="#000"/>
<circle cx="60.50" cy="415.00" r="1.55" fill="#000"/>
<circle cx="77.20" cy="356.40" r="1.60" fill="#000"/>
<circle cx="81.00" cy="355.10" r="1.60" fill="#000"/>
<circle cx="85.10" cy="352.70" r="1.60" fill="#000"/>
<circle cx="81.00" cy="364.10" r="1.60" fill="#000"/>
<circle cx="73.70" cy="368.30" r="1.60" fill="#000"/>
<circle cx="77.20" cy="367.50" r="1.60" fill="#000"/>
<circle cx="81.00" cy="368.90" r="1.60" fill="#000"/>
<circle cx="85.10" cy="368.30" r="1.60" fill="#000"/>
<circle cx="79.40" cy="380.30" r="1.60" fill="#000"/>
<circle cx="79.40" cy="394.90" r="1.60" fill="#000"/>
<polygon points="92.60,363.02 94.30,366.14 90.89,366.14" fill="#000"/>
<polygon points="96.50,362.62 98.20,365.74 94.80,365.74" fill="#000"/>
<polygon points="100.20,360.12 101.91,363.24 98.50,363.24" fill="#000"/>
<polygon points="104.10,363.22 105.80,366.34 102.39,366.34" fill="#000"/>
<polygon points="96.50,371.32 98.20,374.44 94.80,374.44" fill="#000"/>
<polygon points="100.20,374.82 101.91,377.94 98.50,377.94" fill="#000"/>
<polygon points="96.50,376.52 98.20,379.64 94.80,379.64" fill="#000"/>
<polygon points="96.50,380.82 98.20,383.94 94.80,383.94" fill="#000"/>
<polygon points="100.20,384.42 101.91,387.54 98.50,387.54" fill="#000"/>
<polygon points="96.50,387.92 98.20,391.04 94.80,391.04" fill="#000"/>
<polygon points="117.20,356.58 118.91,353.46 115.50,353.46" fill="#000"/>
<polygon points="111.40,365.28 113.11,362.16 109.70,362.16" fill="#000"/>
<polygon points="122.90,364.48 124.61,361.36 121.20,361.36" fill="#000"/>
<polygon points="111.40,370.18 113.11,367.06 109.70,367.06" fill="#000"/>
<polygon points="122.90,371.88 124.61,368.76 121.20,368.76" fill="#000"/>
<polygon points="111.40,382.78 113.11,379.66 109.70,379.66" fill="#000"/>
<polygon points="122.90,382.78 124.61,379.66 121.20,379.66" fill="#000"/>
<polygon points="117.20,394.78 118.91,391.66 115.50,391.66" fill="#000"/>
<polygon points="117.20,376.78 118.91,373.66 115.50,373.66" fill="#000"/>
<polygon points="136.30,353.90 138.10,355.70 136.30,357.50 134.50,355.70" fill="#000"/>
<polygon points="131.10,374.80 132.90,376.60 131.10,378.40 129.30,376.60" fill="#000"/>
<polygon points="136.30,374.80 138.10,376.60 136.30,378.40 134.50,376.60" fill="#000"/>
<polygon points="142.00,374.80 143.80,376.60 142.00,378.40 140.20,376.60" fill="#000"/>
<polygon points="136.30,379.20 138.10,381.00 136.30,382.80 134.50,381.00" fill="#000"/>
<polygon points="138.70,377.90 140.50,379.70 138.70,381.50 136.90,379.70" fill="#000"/>
<polygon points="136.30,385.20 138.10,387.00 136.30,388.80 134.50,387.00" fill="#000"/>
<polygon points="131.10,372.10 132.90,373.90 131.10,375.70 129.30,373.90" fill="#000"/>
<polygon points="142.00,372.10 143.80,373.90 142.00,375.70 140.20,373.90" fill="#000"/>
<circle cx="329.30" cy="370.30" r="1.95" fill="#173b5f"/>
<circle cx="333.30" cy="371.90" r="1.95" fill="#173b5f"/>
<circle cx="337.70" cy="371.40" r="1.95" fill="#173b5f"/>
<circle cx="329.30" cy="375.90" r="1.95" fill="#173b5f"/>
<circle cx="333.30" cy="377.90" r="1.95" fill="#173b5f"/>
<circle cx="337.70" cy="375.90" r="1.95" fill="#173b5f"/>
<circle cx="333.30" cy="404.60" r="1.95" fill="#173b5f"/>
<circle cx="333.30" cy="366.00" r="1.95" fill="#173b5f"/>
<rect x="346.05" y="372.65" width="3.50" height="3.50" fill="#f39a0f"/>
<rect x="354.45" y="373.65" width="3.50" height="3.50" fill="#f39a0f"/>
<rect x="350.05" y="387.65" width="3.50" height="3.50" fill="#f39a0f"/>
<rect x="350.05" y="393.05" width="3.50" height="3.50" fill="#f39a0f"/>
<rect x="346.05" y="398.15" width="3.50" height="3.50" fill="#f39a0f"/>
<rect x="354.45" y="398.85" width="3.50" height="3.50" fill="#f39a0f"/>
<rect x="346.05" y="403.65" width="3.50" height="3.50" fill="#f39a0f"/>
<rect x="354.45" y="405.85" width="3.50" height="3.50" fill="#f39a0f"/>
<rect x="350.05" y="423.05" width="3.50" height="3.50" fill="#f39a0f"/>
<polygon points="368.50,381.56 370.26,384.78 366.74,384.78" fill="#5f9088"/>
<polygon points="372.30,381.76 374.06,384.98 370.54,384.98" fill="#5f9088"/>
<polygon points="370.40,384.76 372.16,387.98 368.64,387.98" fill="#5f9088"/>
<polygon points="370.40,389.16 372.16,392.38 368.64,392.38" fill="#5f9088"/>
<polygon points="365.80,393.26 367.56,396.48 364.04,396.48" fill="#5f9088"/>
<polygon points="369.10,392.96 370.86,396.18 367.34,396.18" fill="#5f9088"/>
<polygon points="372.30,393.26 374.06,396.48 370.54,396.48" fill="#5f9088"/>
<polygon points="375.10,393.76 376.86,396.98 373.34,396.98" fill="#5f9088"/>
<polygon points="368.50,398.46 370.26,401.68 366.74,401.68" fill="#5f9088"/>
<polygon points="372.30,401.66 374.06,404.88 370.54,404.88" fill="#5f9088"/>
<polygon points="370.40,406.56 372.16,409.78 368.64,409.78" fill="#5f9088"/>
<polygon points="389.10,373.34 390.86,370.12 387.34,370.12" fill="#a6624e"/>
<polygon points="387.70,379.14 389.46,375.92 385.94,375.92" fill="#a6624e"/>
<polygon points="390.90,379.14 392.66,375.92 389.14,375.92" fill="#a6624e"/>
<polygon points="384.50,383.24 386.26,380.02 382.74,380.02" fill="#a6624e"/>
<polygon points="393.60,383.64 395.36,380.42 391.84,380.42" fill="#a6624e"/>
<polygon points="387.70,384.14 389.46,380.92 385.94,380.92" fill="#a6624e"/>
<polygon points="390.90,384.14 392.66,380.92 389.14,380.92" fill="#a6624e"/>
<polygon points="389.10,389.54 390.86,386.32 387.34,386.32" fill="#a6624e"/>
<polygon points="387.30,394.14 389.06,390.92 385.54,390.92" fill="#a6624e"/>
<polygon points="390.90,394.14 392.66,390.92 389.14,390.92" fill="#a6624e"/>
<polygon points="412.30,366.74 414.16,368.60 412.30,370.46 410.44,368.60" fill="#a3121e"/>
<polygon points="403.60,369.64 405.46,371.50 403.60,373.36 401.74,371.50" fill="#a3121e"/>
<polygon points="408.20,370.24 410.06,372.10 408.20,373.96 406.34,372.10" fill="#a3121e"/>
<polygon points="403.60,385.14 405.46,387.00 403.60,388.86 401.74,387.00" fill="#a3121e"/>
<polygon points="412.30,386.94 414.16,388.80 412.30,390.66 410.44,388.80" fill="#a3121e"/>
<polygon points="408.20,388.14 410.06,390.00 408.20,391.86 406.34,390.00" fill="#a3121e"/>
<polygon points="403.60,392.24 405.46,394.10 403.60,395.96 401.74,394.10" fill="#a3121e"/>
<polygon points="412.30,392.24 414.16,394.10 412.30,395.96 410.44,394.10" fill="#a3121e"/>
<polygon points="408.20,380.84 410.06,382.70 408.20,384.56 406.34,382.70" fill="#a3121e"/>
<circle cx="58.30" cy="519.30" r="1.95" fill="#173b5f"/>
<circle cx="55.40" cy="521.50" r="1.95" fill="#173b5f"/>
<circle cx="52.60" cy="529.40" r="1.95" fill="#173b5f"/>
<circle cx="58.30" cy="529.10" r="1.95" fill="#173b5f"/>
<circle cx="52.40" cy="534.90" r="1.95" fill="#173b5f"/>
<circle cx="55.90" cy="534.20" r="1.95" fill="#173b5f"/>
<circle cx="58.30" cy="534.50" r="1.95" fill="#173b5f"/>
<circle cx="61.10" cy="533.80" r="1.95" fill="#173b5f"/>
<rect x="78.35" y="538.75" width="3.50" height="3.50" fill="#f39a0f"/>
<rect x="73.75" y="540.95" width="3.50" height="3.50" fill="#f39a0f"/>
<rect x="69.45" y="542.05" width="3.50" height="3.50" fill="#f39a0f"/>
<rect x="74.15" y="548.05" width="3.50" height="3.50" fill="#f39a0f"/>
<rect x="74.15" y="556.25" width="3.50" height="3.50" fill="#f39a0f"/>
<rect x="74.15" y="562.75" width="3.50" height="3.50" fill="#f39a0f"/>
<rect x="69.45" y="567.65" width="3.50" height="3.50" fill="#f39a0f"/>
<rect x="78.35" y="566.55" width="3.50" height="3.50" fill="#f39a0f"/>
<polygon points="94.60,532.10 96.41,535.42 92.78,535.42" fill="#5f9088"/>
<polygon points="91.90,534.80 93.72,538.12 90.09,538.12" fill="#5f9088"/>
<polygon points="97.10,534.80 98.91,538.12 95.28,538.12" fill="#5f9088"/>
<polygon points="92.00,537.60 93.81,540.92 90.19,540.92" fill="#5f9088"/>
<polygon points="94.60,539.10 96.41,542.42 92.78,542.42" fill="#5f9088"/>
<polygon points="97.80,538.60 99.61,541.92 95.98,541.92" fill="#5f9088"/>
<polygon points="94.60,556.10 96.41,559.42 92.78,559.42" fill="#5f9088"/>
<polygon points="91.90,559.40 93.72,562.72 90.09,562.72" fill="#5f9088"/>
<polygon points="97.10,559.40 98.91,562.72 95.28,562.72" fill="#5f9088"/>
<polygon points="94.60,562.60 96.41,565.92 92.78,565.92" fill="#5f9088"/>
<polygon points="94.60,570.30 96.41,573.62 92.78,573.62" fill="#5f9088"/>
<polygon points="113.50,522.80 115.31,519.48 111.69,519.48" fill="#a6624e"/>
<polygon points="109.10,526.40 110.91,523.08 107.28,523.08" fill="#a6624e"/>
<polygon points="109.10,537.40 110.91,534.08 107.28,534.08" fill="#a6624e"/>
<polygon points="117.70,539.60 119.52,536.28 115.89,536.28" fill="#a6624e"/>
<polygon points="113.50,541.40 115.31,538.08 111.69,538.08" fill="#a6624e"/>
<polygon points="109.10,544.60 110.91,541.28 107.28,541.28" fill="#a6624e"/>
<polygon points="117.70,545.10 119.52,541.78 115.89,541.78" fill="#a6624e"/>
<polygon points="113.50,553.30 115.31,549.98 111.69,549.98" fill="#a6624e"/>
<polygon points="113.50,559.20 115.31,555.88 111.69,555.88" fill="#a6624e"/>
<polygon points="131.80,522.58 133.72,524.50 131.80,526.42 129.88,524.50" fill="#a3121e"/>
<polygon points="132.30,527.18 134.22,529.10 132.30,531.02 130.38,529.10" fill="#a3121e"/>
<polygon points="128.00,532.58 129.92,534.50 128.00,536.42 126.08,534.50" fill="#a3121e"/>
<polygon points="136.40,535.38 138.32,537.30 136.40,539.22 134.48,537.30" fill="#a3121e"/>
<polygon points="128.00,537.58 129.92,539.50 128.00,541.42 126.08,539.50" fill="#a3121e"/>
<polygon points="136.40,541.68 138.32,543.60 136.40,545.52 134.48,543.60" fill="#a3121e"/>
<polygon points="128.00,544.68 129.92,546.60 128.00,548.52 126.08,546.60" fill="#a3121e"/>
<polygon points="136.40,552.18 138.32,554.10 136.40,556.02 134.48,554.10" fill="#a3121e"/>
<polygon points="128.00,554.88 129.92,556.80 128.00,558.72 126.08,556.80" fill="#a3121e"/>
<circle cx="332.10" cy="507.10" r="1.70" fill="#000"/>
<circle cx="335.90" cy="507.10" r="1.70" fill="#000"/>
<circle cx="339.70" cy="507.10" r="1.70" fill="#000"/>
<circle cx="330.60" cy="538.20" r="1.70" fill="#000"/>
<circle cx="333.60" cy="538.20" r="1.70" fill="#000"/>
<circle cx="336.60" cy="538.20" r="1.70" fill="#000"/>
<circle cx="339.60" cy="538.20" r="1.70" fill="#000"/>
<circle cx="342.00" cy="538.20" r="1.70" fill="#000"/>
<circle cx="335.90" cy="553.40" r="1.70" fill="#000"/>
<rect x="349.60" y="553.80" width="3.20" height="3.20" fill="#000"/>
<rect x="355.20" y="552.40" width="3.20" height="3.20" fill="#000"/>
<rect x="346.80" y="568.20" width="3.20" height="3.20" fill="#000"/>
<rect x="352.30" y="569.80" width="3.20" height="3.20" fill="#000"/>
<rect x="358.10" y="568.20" width="3.20" height="3.20" fill="#000"/>
<rect x="346.80" y="573.60" width="3.20" height="3.20" fill="#000"/>
<rect x="358.10" y="573.60" width="3.20" height="3.20" fill="#000"/>
<polygon points="370.80,553.43 372.40,556.35 369.20,556.35" fill="#000"/>
<polygon points="374.00,553.43 375.60,556.35 372.40,556.35" fill="#000"/>
<polygon points="367.00,562.83 368.60,565.75 365.40,565.75" fill="#000"/>
<polygon points="370.00,562.83 371.60,565.75 368.40,565.75" fill="#000"/>
<polygon points="373.00,562.83 374.60,565.75 371.40,565.75" fill="#000"/>
<polygon points="376.00,562.83 377.60,565.75 374.40,565.75" fill="#000"/>
<polygon points="378.50,562.83 380.10,565.75 376.90,565.75" fill="#000"/>
<polygon points="368.50,564.33 370.10,567.25 366.90,567.25" fill="#000"/>
<polygon points="374.50,564.33 376.10,567.25 372.90,567.25" fill="#000"/>
<polygon points="371.50,564.33 373.10,567.25 369.90,567.25" fill="#000"/>
<polygon points="387.50,539.02 389.15,536.01 385.85,536.01" fill="#000"/>
<polygon points="390.70,539.02 392.35,536.01 389.05,536.01" fill="#000"/>
<polygon points="393.50,539.02 395.15,536.01 391.85,536.01" fill="#000"/>
<polygon points="385.30,555.93 386.95,552.91 383.65,552.91" fill="#000"/>
<polygon points="388.50,556.33 390.15,553.31 386.85,553.31" fill="#000"/>
<polygon points="391.50,556.73 393.15,553.71 389.85,553.71" fill="#000"/>
<polygon points="394.30,556.33 395.95,553.31 392.65,553.31" fill="#000"/>
<polygon points="396.60,555.93 398.25,552.91 394.95,552.91" fill="#000"/>
<polygon points="390.50,565.33 392.15,562.31 388.85,562.31" fill="#000"/>
<polygon points="406.90,536.40 408.70,538.20 406.90,540.00 405.10,538.20" fill="#000"/>
<polygon points="410.30,536.40 412.10,538.20 410.30,540.00 408.50,538.20" fill="#000"/>
<polygon points="403.00,552.40 404.80,554.20 403.00,556.00 401.20,554.20" fill="#000"/>
<polygon points="406.20,553.20 408.00,555.00 406.20,556.80 404.40,555.00" fill="#000"/>
<polygon points="409.00,553.20 410.80,555.00 409.00,556.80 407.20,555.00" fill="#000"/>
<polygon points="411.70,552.80 413.50,554.60 411.70,556.40 409.90,554.60" fill="#000"/>
<polygon points="414.40,552.40 416.20,554.20 414.40,556.00 412.60,554.20" fill="#000"/>
<polygon points="408.70,562.10 410.50,563.90 408.70,565.70 406.90,563.90" fill="#000"/>
<polygon points="408.70,568.20 410.50,570.00 408.70,571.80 406.90,570.00" fill="#000"/>
<circle cx="54.00" cy="696.30" r="1.90" fill="#000"/>
<circle cx="64.90" cy="694.60" r="1.90" fill="#000"/>
<circle cx="53.50" cy="701.80" r="1.90" fill="#000"/>
<circle cx="64.90" cy="701.80" r="1.90" fill="#000"/>
<circle cx="64.90" cy="710.50" r="1.90" fill="#000"/>
<circle cx="53.50" cy="714.20" r="1.90" fill="#000"/>
<circle cx="83.40" cy="709.40" r="1.85" fill="#000"/>
<circle cx="78.00" cy="712.90" r="1.85" fill="#000"/>
<circle cx="72.50" cy="721.60" r="1.85" fill="#000"/>
<circle cx="83.40" cy="721.60" r="1.85" fill="#000"/>
<circle cx="78.00" cy="725.10" r="1.85" fill="#000"/>
<circle cx="83.40" cy="730.30" r="1.85" fill="#000"/>
<circle cx="78.00" cy="732.00" r="1.85" fill="#000"/>
<circle cx="78.00" cy="739.10" r="1.85" fill="#000"/>
<polygon points="91.40,697.40 93.22,700.72 89.59,700.72" fill="#000"/>
<polygon points="96.90,699.00 98.72,702.32 95.09,702.32" fill="#000"/>
<polygon points="102.30,695.50 104.11,698.82 100.48,698.82" fill="#000"/>
<polygon points="96.90,704.50 98.72,707.82 95.09,707.82" fill="#000"/>
<polygon points="96.90,716.70 98.72,720.02 95.09,720.02" fill="#000"/>
<polygon points="96.90,725.40 98.72,728.72 95.09,728.72" fill="#000"/>
<polygon points="115.50,685.40 117.31,682.08 113.69,682.08" fill="#000"/>
<polygon points="115.50,695.60 117.31,692.28 113.69,692.28" fill="#000"/>
<polygon points="110.20,702.30 112.02,698.98 108.39,698.98" fill="#000"/>
<polygon points="121.20,705.60 123.02,702.28 119.39,702.28" fill="#000"/>
<polygon points="110.20,716.10 112.02,712.78 108.39,712.78" fill="#000"/>
<polygon points="121.20,717.70 123.02,714.38 119.39,714.38" fill="#000"/>
<polygon points="115.50,725.50 117.31,722.18 113.69,722.18" fill="#000"/>
<polygon points="134.30,667.62 136.28,669.60 134.30,671.58 132.32,669.60" fill="#000"/>
<polygon points="134.30,673.22 136.28,675.20 134.30,677.18 132.32,675.20" fill="#000"/>
<polygon points="139.80,681.82 141.78,683.80 139.80,685.78 137.82,683.80" fill="#000"/>
<polygon points="128.80,685.12 130.78,687.10 128.80,689.08 126.82,687.10" fill="#000"/>
<polygon points="134.30,697.22 136.28,699.20 134.30,701.18 132.32,699.20" fill="#000"/>
<polygon points="134.30,719.92 136.28,721.90 134.30,723.88 132.32,721.90" fill="#000"/>
<text x="351.80" y="370.50" font-size="5.5" text-anchor="middle" font-weight="bold" fill="#444" style="stroke:none">*</text>
<text x="389.00" y="366.00" font-size="5" text-anchor="middle" font-weight="bold" fill="#444" style="stroke:none">#</text>
<text x="407.80" y="366.30" font-size="5" text-anchor="middle" font-weight="bold" fill="#444" style="stroke:none">#</text>
<text x="74.40" y="535.00" font-size="5.5" text-anchor="middle" font-weight="bold" fill="#444" style="stroke:none">****</text>
<text x="113.20" y="514.80" font-size="5" text-anchor="middle" font-weight="bold" fill="#444" style="stroke:none">#</text>
<text x="131.80" y="522.00" font-size="5" text-anchor="middle" font-weight="bold" fill="#444" style="stroke:none">#</text>
<text x="353.90" y="550.50" font-size="5.5" text-anchor="middle" font-weight="bold" fill="#444" style="stroke:none">***</text>
<text x="391.60" y="533.20" font-size="5" text-anchor="middle" font-weight="bold" fill="#444" style="stroke:none">##</text>
<text x="408.50" y="533.20" font-size="5" text-anchor="middle" font-weight="bold" fill="#444" style="stroke:none">#</text>
<text x="77.40" y="707.40" font-size="5.5" text-anchor="middle" font-weight="bold" fill="#444" style="stroke:none">**</text>
<text x="115.50" y="677.00" font-size="5" text-anchor="middle" font-weight="bold" fill="#444" style="stroke:none">#</text>
<text x="134.30" y="667.30" font-size="5" text-anchor="middle" font-weight="bold" fill="#444" style="stroke:none">##</text>
</svg>
</body></html>
